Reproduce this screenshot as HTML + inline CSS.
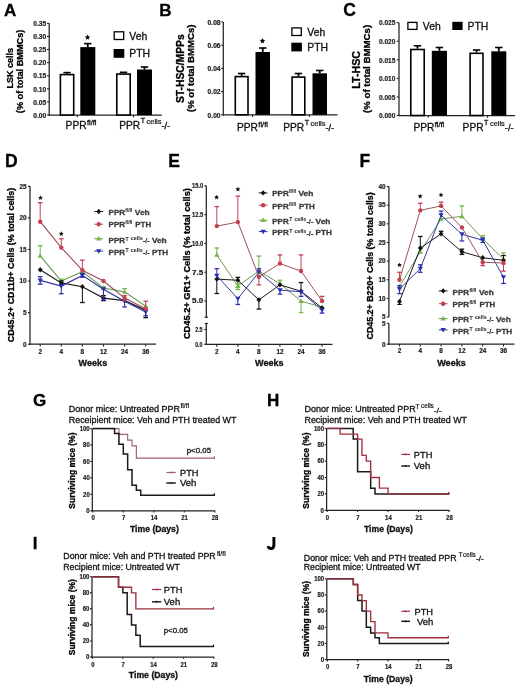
<!DOCTYPE html><html><head><meta charset="utf-8"><style>html,body{margin:0;padding:0;background:#fff;}svg{display:block;filter:blur(0.4px);}text{font-family:"Liberation Sans",sans-serif;stroke:currentColor;stroke-width:0.3px;}</style></head><body>
<svg width="520" height="685" viewBox="0 0 520 685">
<rect x="0" y="0" width="520" height="685" fill="#fff"/>
<text x="3.9" y="15.9" font-size="17" font-weight="bold" text-anchor="start" fill="#000" color="#000">A</text>
<text transform="translate(13.0,68.2) rotate(-90)" x="0" y="0" font-size="9.3" font-weight="bold" text-anchor="middle" fill="#000" color="#000" textLength="40.5" lengthAdjust="spacingAndGlyphs">LSK cells</text>
<text transform="translate(22.6,71.4) rotate(-90)" x="0" y="0" font-size="9.3" font-weight="bold" text-anchor="middle" fill="#000" color="#000" textLength="83.5" lengthAdjust="spacingAndGlyphs">(% of total BMMCs)</text>
<line x1="49.2" y1="23.299999999999997" x2="49.2" y2="115.6" stroke="#222" stroke-width="1.25"/>
<line x1="47.0" y1="115.0" x2="49.2" y2="115.0" stroke="#222" stroke-width="1.1"/>
<text x="46.2" y="117.7" font-size="6.6" font-weight="bold" text-anchor="end" fill="#222" color="#222" textLength="13" lengthAdjust="spacingAndGlyphs" style="stroke-width:0.2px">0.00</text>
<line x1="47.0" y1="101.9" x2="49.2" y2="101.9" stroke="#222" stroke-width="1.1"/>
<text x="46.2" y="104.60000000000001" font-size="6.6" font-weight="bold" text-anchor="end" fill="#222" color="#222" textLength="13" lengthAdjust="spacingAndGlyphs" style="stroke-width:0.2px">0.05</text>
<line x1="47.0" y1="88.8" x2="49.2" y2="88.8" stroke="#222" stroke-width="1.1"/>
<text x="46.2" y="91.5" font-size="6.6" font-weight="bold" text-anchor="end" fill="#222" color="#222" textLength="13" lengthAdjust="spacingAndGlyphs" style="stroke-width:0.2px">0.10</text>
<line x1="47.0" y1="75.7" x2="49.2" y2="75.7" stroke="#222" stroke-width="1.1"/>
<text x="46.2" y="78.4" font-size="6.6" font-weight="bold" text-anchor="end" fill="#222" color="#222" textLength="13" lengthAdjust="spacingAndGlyphs" style="stroke-width:0.2px">0.15</text>
<line x1="47.0" y1="62.6" x2="49.2" y2="62.6" stroke="#222" stroke-width="1.1"/>
<text x="46.2" y="65.3" font-size="6.6" font-weight="bold" text-anchor="end" fill="#222" color="#222" textLength="13" lengthAdjust="spacingAndGlyphs" style="stroke-width:0.2px">0.20</text>
<line x1="47.0" y1="49.5" x2="49.2" y2="49.5" stroke="#222" stroke-width="1.1"/>
<text x="46.2" y="52.2" font-size="6.6" font-weight="bold" text-anchor="end" fill="#222" color="#222" textLength="13" lengthAdjust="spacingAndGlyphs" style="stroke-width:0.2px">0.25</text>
<line x1="47.0" y1="36.400000000000006" x2="49.2" y2="36.400000000000006" stroke="#222" stroke-width="1.1"/>
<text x="46.2" y="39.10000000000001" font-size="6.6" font-weight="bold" text-anchor="end" fill="#222" color="#222" textLength="13" lengthAdjust="spacingAndGlyphs" style="stroke-width:0.2px">0.30</text>
<line x1="47.0" y1="23.299999999999997" x2="49.2" y2="23.299999999999997" stroke="#222" stroke-width="1.1"/>
<text x="46.2" y="25.999999999999996" font-size="6.6" font-weight="bold" text-anchor="end" fill="#222" color="#222" textLength="13" lengthAdjust="spacingAndGlyphs" style="stroke-width:0.2px">0.35</text>
<line x1="48.6" y1="115.0" x2="161.7" y2="115.0" stroke="#222" stroke-width="1.25"/>
<line x1="77.3" y1="115.0" x2="77.3" y2="117.3" stroke="#222" stroke-width="1.1"/>
<line x1="133.5" y1="115.0" x2="133.5" y2="117.3" stroke="#222" stroke-width="1.1"/>
<line x1="67.05" y1="73.8" x2="67.05" y2="72.6" stroke="#000" stroke-width="1.8"/>
<line x1="63.349999999999994" y1="72.6" x2="70.75" y2="72.6" stroke="#000" stroke-width="1.6"/>
<rect x="60.4" y="74.6" width="13.299999999999999" height="40.400000000000006" fill="#fff" stroke="#000" stroke-width="1.6"/>
<line x1="87.8" y1="47.1" x2="87.8" y2="43.6" stroke="#000" stroke-width="1.8"/>
<line x1="84.1" y1="43.6" x2="91.5" y2="43.6" stroke="#000" stroke-width="1.6"/>
<rect x="80.3" y="47.1" width="15.0" height="67.9" fill="#000"/>
<line x1="123.5" y1="73.3" x2="123.5" y2="72.3" stroke="#000" stroke-width="1.8"/>
<line x1="119.8" y1="72.3" x2="127.2" y2="72.3" stroke="#000" stroke-width="1.6"/>
<rect x="116.8" y="74.1" width="13.4" height="40.900000000000006" fill="#fff" stroke="#000" stroke-width="1.6"/>
<line x1="144.5" y1="69.5" x2="144.5" y2="67.0" stroke="#000" stroke-width="1.8"/>
<line x1="140.8" y1="67.0" x2="148.2" y2="67.0" stroke="#000" stroke-width="1.6"/>
<rect x="137.0" y="69.5" width="15.0" height="45.5" fill="#000"/>
<polygon points="87.50,34.40 88.35,36.13 90.26,36.40 88.88,37.75 89.20,39.65 87.50,38.75 85.80,39.65 86.12,37.75 84.74,36.40 86.65,36.13" fill="#111"/>
<rect x="114.19999999999999" y="31.8" width="9.5" height="7.7" fill="#fff" stroke="#000" stroke-width="1.3"/>
<text x="129.3" y="39.6" font-size="10.4" text-anchor="start" fill="#111" color="#111">Veh</text>
<rect x="113.6" y="49.0" width="10.7" height="8.8" fill="#000"/>
<text x="129.3" y="57.4" font-size="10.4" text-anchor="start" fill="#111" color="#111">PTH</text>
<text x="65.6" y="128.9" font-size="10.2" text-anchor="start" fill="#111" color="#111" textLength="21.0" lengthAdjust="spacingAndGlyphs">PPR</text>
<text x="86.9" y="124.60000000000001" font-size="7.2" text-anchor="start" fill="#111" color="#111" textLength="9.6" lengthAdjust="spacingAndGlyphs">fl/fl</text>
<text x="119.19999999999999" y="129.2" font-size="10.2" text-anchor="start" fill="#111" color="#111" textLength="21.0" lengthAdjust="spacingAndGlyphs">PPR</text>
<text x="140.7" y="123.39999999999999" font-size="7.0" text-anchor="start" fill="#111" color="#111">T</text>
<text x="146.6" y="124.39999999999999" font-size="6.6" text-anchor="start" fill="#111" color="#111" textLength="14.8" lengthAdjust="spacingAndGlyphs" style="stroke-width:0.2px">cells</text>
<text x="161.39999999999998" y="129.1" font-size="8.5" text-anchor="start" fill="#111" color="#111" textLength="8.8" lengthAdjust="spacingAndGlyphs">-/-</text>
<text x="159.2" y="15.9" font-size="17" font-weight="bold" text-anchor="start" fill="#000" color="#000">B</text>
<text transform="translate(183.6,68.7) rotate(-90)" x="0" y="0" font-size="10.3" font-weight="bold" text-anchor="middle" fill="#000" color="#000" textLength="68.8" lengthAdjust="spacingAndGlyphs">ST-HSC/MPPs</text>
<text transform="translate(194.4,68.3) rotate(-90)" x="0" y="0" font-size="9.3" font-weight="bold" text-anchor="middle" fill="#000" color="#000" textLength="87.5" lengthAdjust="spacingAndGlyphs">(% of total BMMCs)</text>
<line x1="223.3" y1="22.0" x2="223.3" y2="115.39999999999999" stroke="#222" stroke-width="1.25"/>
<line x1="221.10000000000002" y1="114.8" x2="223.3" y2="114.8" stroke="#222" stroke-width="1.1"/>
<text x="220.6" y="117.5" font-size="6.6" font-weight="bold" text-anchor="end" fill="#222" color="#222" textLength="13" lengthAdjust="spacingAndGlyphs" style="stroke-width:0.2px">0.00</text>
<line x1="221.10000000000002" y1="91.6" x2="223.3" y2="91.6" stroke="#222" stroke-width="1.1"/>
<text x="220.6" y="94.3" font-size="6.6" font-weight="bold" text-anchor="end" fill="#222" color="#222" textLength="13" lengthAdjust="spacingAndGlyphs" style="stroke-width:0.2px">0.02</text>
<line x1="221.10000000000002" y1="68.4" x2="223.3" y2="68.4" stroke="#222" stroke-width="1.1"/>
<text x="220.6" y="71.10000000000001" font-size="6.6" font-weight="bold" text-anchor="end" fill="#222" color="#222" textLength="13" lengthAdjust="spacingAndGlyphs" style="stroke-width:0.2px">0.04</text>
<line x1="221.10000000000002" y1="45.2" x2="223.3" y2="45.2" stroke="#222" stroke-width="1.1"/>
<text x="220.6" y="47.900000000000006" font-size="6.6" font-weight="bold" text-anchor="end" fill="#222" color="#222" textLength="13" lengthAdjust="spacingAndGlyphs" style="stroke-width:0.2px">0.06</text>
<line x1="221.10000000000002" y1="22.0" x2="223.3" y2="22.0" stroke="#222" stroke-width="1.1"/>
<text x="220.6" y="24.7" font-size="6.6" font-weight="bold" text-anchor="end" fill="#222" color="#222" textLength="13" lengthAdjust="spacingAndGlyphs" style="stroke-width:0.2px">0.08</text>
<line x1="222.70000000000002" y1="114.8" x2="337.5" y2="114.8" stroke="#222" stroke-width="1.25"/>
<line x1="252.5" y1="114.8" x2="252.5" y2="117.1" stroke="#222" stroke-width="1.1"/>
<line x1="309.3" y1="114.8" x2="309.3" y2="117.1" stroke="#222" stroke-width="1.1"/>
<line x1="241.65" y1="75.8" x2="241.65" y2="73.5" stroke="#000" stroke-width="1.8"/>
<line x1="237.95000000000002" y1="73.5" x2="245.35" y2="73.5" stroke="#000" stroke-width="1.6"/>
<rect x="235.3" y="76.6" width="12.700000000000012" height="38.2" fill="#fff" stroke="#000" stroke-width="1.6"/>
<line x1="262.75" y1="52.0" x2="262.75" y2="48.0" stroke="#000" stroke-width="1.8"/>
<line x1="259.05" y1="48.0" x2="266.45" y2="48.0" stroke="#000" stroke-width="1.6"/>
<rect x="255.5" y="52.0" width="14.5" height="62.8" fill="#000"/>
<line x1="298.45000000000005" y1="76.3" x2="298.45000000000005" y2="73.5" stroke="#000" stroke-width="1.8"/>
<line x1="294.75000000000006" y1="73.5" x2="302.15000000000003" y2="73.5" stroke="#000" stroke-width="1.6"/>
<rect x="292.1" y="77.1" width="12.700000000000012" height="37.7" fill="#fff" stroke="#000" stroke-width="1.6"/>
<line x1="319.75" y1="73.3" x2="319.75" y2="70.5" stroke="#000" stroke-width="1.8"/>
<line x1="316.05" y1="70.5" x2="323.45" y2="70.5" stroke="#000" stroke-width="1.6"/>
<rect x="312.5" y="73.3" width="14.5" height="41.5" fill="#000"/>
<polygon points="262.50,38.10 263.35,39.83 265.26,40.10 263.88,41.45 264.20,43.35 262.50,42.45 260.80,43.35 261.12,41.45 259.74,40.10 261.65,39.83" fill="#111"/>
<rect x="291.90000000000003" y="27.900000000000002" width="9.4" height="7.6000000000000005" fill="#fff" stroke="#000" stroke-width="1.3"/>
<text x="307.3" y="35.6" font-size="10.4" text-anchor="start" fill="#111" color="#111">Veh</text>
<rect x="291.3" y="42.7" width="10.6" height="8.7" fill="#000"/>
<text x="307.3" y="50.9" font-size="10.4" text-anchor="start" fill="#111" color="#111">PTH</text>
<text x="237.0" y="131.0" font-size="10.2" text-anchor="start" fill="#111" color="#111" textLength="21.0" lengthAdjust="spacingAndGlyphs">PPR</text>
<text x="258.3" y="126.7" font-size="7.2" text-anchor="start" fill="#111" color="#111" textLength="9.6" lengthAdjust="spacingAndGlyphs">fl/fl</text>
<text x="283.20000000000005" y="131.1" font-size="10.2" text-anchor="start" fill="#111" color="#111" textLength="21.0" lengthAdjust="spacingAndGlyphs">PPR</text>
<text x="304.70000000000005" y="125.3" font-size="7.0" text-anchor="start" fill="#111" color="#111">T</text>
<text x="310.6" y="126.3" font-size="6.6" text-anchor="start" fill="#111" color="#111" textLength="14.8" lengthAdjust="spacingAndGlyphs" style="stroke-width:0.2px">cells</text>
<text x="325.40000000000003" y="131.0" font-size="8.5" text-anchor="start" fill="#111" color="#111" textLength="8.8" lengthAdjust="spacingAndGlyphs">-/-</text>
<text x="343.3" y="16.1" font-size="17.5" font-weight="bold" text-anchor="start" fill="#000" color="#000">C</text>
<text transform="translate(360.0,69.9) rotate(-90)" x="0" y="0" font-size="10.3" font-weight="bold" text-anchor="middle" fill="#000" color="#000" textLength="37.6" lengthAdjust="spacingAndGlyphs">LT-HSC</text>
<text transform="translate(370.3,68.9) rotate(-90)" x="0" y="0" font-size="9.3" font-weight="bold" text-anchor="middle" fill="#000" color="#000" textLength="88.2" lengthAdjust="spacingAndGlyphs">(% of total BMMCs)</text>
<line x1="399.0" y1="22.700000000000003" x2="399.0" y2="116.1" stroke="#222" stroke-width="1.25"/>
<line x1="396.8" y1="115.5" x2="399.0" y2="115.5" stroke="#222" stroke-width="1.1"/>
<text x="395.4" y="118.2" font-size="6.6" font-weight="bold" text-anchor="end" fill="#222" color="#222" textLength="16.4" lengthAdjust="spacingAndGlyphs" style="stroke-width:0.2px">0.000</text>
<line x1="396.8" y1="96.94" x2="399.0" y2="96.94" stroke="#222" stroke-width="1.1"/>
<text x="395.4" y="99.64" font-size="6.6" font-weight="bold" text-anchor="end" fill="#222" color="#222" textLength="16.4" lengthAdjust="spacingAndGlyphs" style="stroke-width:0.2px">0.005</text>
<line x1="396.8" y1="78.38" x2="399.0" y2="78.38" stroke="#222" stroke-width="1.1"/>
<text x="395.4" y="81.08" font-size="6.6" font-weight="bold" text-anchor="end" fill="#222" color="#222" textLength="16.4" lengthAdjust="spacingAndGlyphs" style="stroke-width:0.2px">0.010</text>
<line x1="396.8" y1="59.82000000000001" x2="399.0" y2="59.82000000000001" stroke="#222" stroke-width="1.1"/>
<text x="395.4" y="62.52000000000001" font-size="6.6" font-weight="bold" text-anchor="end" fill="#222" color="#222" textLength="16.4" lengthAdjust="spacingAndGlyphs" style="stroke-width:0.2px">0.015</text>
<line x1="396.8" y1="41.260000000000005" x2="399.0" y2="41.260000000000005" stroke="#222" stroke-width="1.1"/>
<text x="395.4" y="43.96000000000001" font-size="6.6" font-weight="bold" text-anchor="end" fill="#222" color="#222" textLength="16.4" lengthAdjust="spacingAndGlyphs" style="stroke-width:0.2px">0.020</text>
<line x1="396.8" y1="22.700000000000003" x2="399.0" y2="22.700000000000003" stroke="#222" stroke-width="1.1"/>
<text x="395.4" y="25.400000000000002" font-size="6.6" font-weight="bold" text-anchor="end" fill="#222" color="#222" textLength="16.4" lengthAdjust="spacingAndGlyphs" style="stroke-width:0.2px">0.025</text>
<line x1="398.4" y1="115.5" x2="515.0" y2="115.5" stroke="#222" stroke-width="1.25"/>
<line x1="428.3" y1="115.5" x2="428.3" y2="117.8" stroke="#222" stroke-width="1.1"/>
<line x1="487.5" y1="115.5" x2="487.5" y2="117.8" stroke="#222" stroke-width="1.1"/>
<line x1="417.5" y1="48.7" x2="417.5" y2="45.8" stroke="#000" stroke-width="1.8"/>
<line x1="413.8" y1="45.8" x2="421.2" y2="45.8" stroke="#000" stroke-width="1.6"/>
<rect x="410.8" y="49.5" width="13.4" height="66.0" fill="#fff" stroke="#000" stroke-width="1.6"/>
<line x1="439.4" y1="50.8" x2="439.4" y2="47.5" stroke="#000" stroke-width="1.8"/>
<line x1="435.7" y1="47.5" x2="443.09999999999997" y2="47.5" stroke="#000" stroke-width="1.6"/>
<rect x="431.8" y="50.8" width="15.199999999999989" height="64.7" fill="#000"/>
<line x1="476.55" y1="52.5" x2="476.55" y2="50.0" stroke="#000" stroke-width="1.8"/>
<line x1="472.85" y1="50.0" x2="480.25" y2="50.0" stroke="#000" stroke-width="1.6"/>
<rect x="470.1" y="53.3" width="12.9" height="62.2" fill="#fff" stroke="#000" stroke-width="1.6"/>
<line x1="498.8" y1="51.3" x2="498.8" y2="47.5" stroke="#000" stroke-width="1.8"/>
<line x1="495.1" y1="47.5" x2="502.5" y2="47.5" stroke="#000" stroke-width="1.6"/>
<rect x="491.3" y="51.3" width="15.0" height="64.2" fill="#000"/>
<rect x="407.90000000000003" y="22.400000000000002" width="9.100000000000001" height="6.999999999999999" fill="#fff" stroke="#000" stroke-width="1.3"/>
<text x="422.8" y="29.6" font-size="10.4" text-anchor="start" fill="#111" color="#111">Veh</text>
<rect x="452.3" y="21.8" width="10.3" height="8.2" fill="#000"/>
<text x="467.5" y="29.6" font-size="10.4" text-anchor="start" fill="#111" color="#111">PTH</text>
<text x="413.40000000000003" y="131.1" font-size="10.2" text-anchor="start" fill="#111" color="#111" textLength="21.0" lengthAdjust="spacingAndGlyphs">PPR</text>
<text x="434.7" y="126.8" font-size="7.2" text-anchor="start" fill="#111" color="#111" textLength="9.6" lengthAdjust="spacingAndGlyphs">fl/fl</text>
<text x="462.6" y="131.1" font-size="10.2" text-anchor="start" fill="#111" color="#111" textLength="21.0" lengthAdjust="spacingAndGlyphs">PPR</text>
<text x="484.1" y="125.3" font-size="7.0" text-anchor="start" fill="#111" color="#111">T</text>
<text x="490.0" y="126.3" font-size="6.6" text-anchor="start" fill="#111" color="#111" textLength="14.8" lengthAdjust="spacingAndGlyphs" style="stroke-width:0.2px">cells</text>
<text x="504.8" y="131.0" font-size="8.5" text-anchor="start" fill="#111" color="#111" textLength="8.8" lengthAdjust="spacingAndGlyphs">-/-</text>
<text x="5.0" y="166.6" font-size="17.5" font-weight="bold" text-anchor="start" fill="#000" color="#000">D</text>
<text transform="translate(14.4,265.0) rotate(-90)" x="0" y="0" font-size="9.0" font-weight="bold" text-anchor="middle" fill="#000" color="#000" textLength="154.5" lengthAdjust="spacingAndGlyphs">CD45.2+ CD11b+ Cells (% total cells)</text>
<line x1="30.0" y1="186.325" x2="30.0" y2="344.8" stroke="#222" stroke-width="1.25"/>
<line x1="28.0" y1="344.2" x2="30.0" y2="344.2" stroke="#222" stroke-width="1.1"/>
<text x="26.6" y="346.5" font-size="6.4" font-weight="bold" text-anchor="end" fill="#222" color="#222" style="stroke-width:0.2px">0</text>
<line x1="28.0" y1="312.625" x2="30.0" y2="312.625" stroke="#222" stroke-width="1.1"/>
<text x="26.6" y="314.925" font-size="6.4" font-weight="bold" text-anchor="end" fill="#222" color="#222" style="stroke-width:0.2px">5</text>
<line x1="28.0" y1="281.04999999999995" x2="30.0" y2="281.04999999999995" stroke="#222" stroke-width="1.1"/>
<text x="26.6" y="283.34999999999997" font-size="6.4" font-weight="bold" text-anchor="end" fill="#222" color="#222" style="stroke-width:0.2px">10</text>
<line x1="28.0" y1="249.47499999999997" x2="30.0" y2="249.47499999999997" stroke="#222" stroke-width="1.1"/>
<text x="26.6" y="251.77499999999998" font-size="6.4" font-weight="bold" text-anchor="end" fill="#222" color="#222" style="stroke-width:0.2px">15</text>
<line x1="28.0" y1="217.89999999999998" x2="30.0" y2="217.89999999999998" stroke="#222" stroke-width="1.1"/>
<text x="26.6" y="220.2" font-size="6.4" font-weight="bold" text-anchor="end" fill="#222" color="#222" style="stroke-width:0.2px">20</text>
<line x1="28.0" y1="186.325" x2="30.0" y2="186.325" stroke="#222" stroke-width="1.1"/>
<text x="26.6" y="188.625" font-size="6.4" font-weight="bold" text-anchor="end" fill="#222" color="#222" style="stroke-width:0.2px">25</text>
<line x1="29.4" y1="344.2" x2="156.0" y2="344.2" stroke="#222" stroke-width="1.25"/>
<line x1="40.2" y1="344.2" x2="40.2" y2="346.59999999999997" stroke="#222" stroke-width="1.1"/>
<text x="40.2" y="353.5" font-size="6.4" font-weight="bold" text-anchor="middle" fill="#222" color="#222" style="stroke-width:0.2px">2</text>
<line x1="61.300000000000004" y1="344.2" x2="61.300000000000004" y2="346.59999999999997" stroke="#222" stroke-width="1.1"/>
<text x="61.300000000000004" y="353.5" font-size="6.4" font-weight="bold" text-anchor="middle" fill="#222" color="#222" style="stroke-width:0.2px">4</text>
<line x1="82.4" y1="344.2" x2="82.4" y2="346.59999999999997" stroke="#222" stroke-width="1.1"/>
<text x="82.4" y="353.5" font-size="6.4" font-weight="bold" text-anchor="middle" fill="#222" color="#222" style="stroke-width:0.2px">8</text>
<line x1="103.5" y1="344.2" x2="103.5" y2="346.59999999999997" stroke="#222" stroke-width="1.1"/>
<text x="103.5" y="353.5" font-size="6.4" font-weight="bold" text-anchor="middle" fill="#222" color="#222" style="stroke-width:0.2px">12</text>
<line x1="124.60000000000001" y1="344.2" x2="124.60000000000001" y2="346.59999999999997" stroke="#222" stroke-width="1.1"/>
<text x="124.60000000000001" y="353.5" font-size="6.4" font-weight="bold" text-anchor="middle" fill="#222" color="#222" style="stroke-width:0.2px">24</text>
<line x1="145.7" y1="344.2" x2="145.7" y2="346.59999999999997" stroke="#222" stroke-width="1.1"/>
<text x="145.7" y="353.5" font-size="6.4" font-weight="bold" text-anchor="middle" fill="#222" color="#222" style="stroke-width:0.2px">36</text>
<text x="92.9" y="365.6" font-size="9.1" font-weight="bold" text-anchor="middle" fill="#111" color="#111" textLength="28.6" lengthAdjust="spacingAndGlyphs">Weeks</text>
<path d="M40.20,255.79 L61.30,281.05 L82.40,271.58 L103.50,288.00 L124.60,291.79 L145.70,306.31" stroke="#6f9c56" stroke-width="1.2" fill="none"/>
<line x1="40.2" y1="255.78999999999996" x2="40.2" y2="245.68599999999998" stroke="#72b545" stroke-width="1.0"/>
<line x1="37.900000000000006" y1="245.68599999999998" x2="42.5" y2="245.68599999999998" stroke="#72b545" stroke-width="1.3"/>
<line x1="61.300000000000004" y1="281.04999999999995" x2="61.300000000000004" y2="279.15549999999996" stroke="#72b545" stroke-width="1.0"/>
<line x1="59.00000000000001" y1="279.15549999999996" x2="63.6" y2="279.15549999999996" stroke="#72b545" stroke-width="1.3"/>
<line x1="103.5" y1="287.99649999999997" x2="103.5" y2="286.7335" stroke="#72b545" stroke-width="1.0"/>
<line x1="101.2" y1="286.7335" x2="105.8" y2="286.7335" stroke="#72b545" stroke-width="1.3"/>
<line x1="124.60000000000001" y1="291.78549999999996" x2="124.60000000000001" y2="288.628" stroke="#72b545" stroke-width="1.0"/>
<line x1="122.30000000000001" y1="288.628" x2="126.9" y2="288.628" stroke="#72b545" stroke-width="1.3"/>
<path d="M40.20,253.19L42.80,257.69L37.60,257.69Z" fill="#72b545"/>
<path d="M61.30,278.45L63.90,282.95L58.70,282.95Z" fill="#72b545"/>
<path d="M82.40,268.98L85.00,273.48L79.80,273.48Z" fill="#72b545"/>
<path d="M103.50,285.40L106.10,289.90L100.90,289.90Z" fill="#72b545"/>
<path d="M124.60,289.19L127.20,293.69L122.00,293.69Z" fill="#72b545"/>
<path d="M145.70,303.71L148.30,308.21L143.10,308.21Z" fill="#72b545"/>
<path d="M40.20,269.68 L61.30,282.94 L82.40,286.73 L103.50,298.10 L124.60,300.63 L145.70,310.10" stroke="#1a1a1a" stroke-width="1.2" fill="none"/>
<line x1="61.300000000000004" y1="282.9445" x2="61.300000000000004" y2="284.839" stroke="#111111" stroke-width="1.0"/>
<line x1="59.00000000000001" y1="284.839" x2="63.6" y2="284.839" stroke="#111111" stroke-width="1.3"/>
<line x1="61.300000000000004" y1="282.9445" x2="61.300000000000004" y2="281.04999999999995" stroke="#111111" stroke-width="1.0"/>
<line x1="59.00000000000001" y1="281.04999999999995" x2="63.6" y2="281.04999999999995" stroke="#111111" stroke-width="1.3"/>
<line x1="82.4" y1="286.7335" x2="82.4" y2="302.52099999999996" stroke="#111111" stroke-width="1.0"/>
<line x1="80.10000000000001" y1="302.52099999999996" x2="84.7" y2="302.52099999999996" stroke="#111111" stroke-width="1.3"/>
<line x1="103.5" y1="298.1005" x2="103.5" y2="300.62649999999996" stroke="#111111" stroke-width="1.0"/>
<line x1="101.2" y1="300.62649999999996" x2="105.8" y2="300.62649999999996" stroke="#111111" stroke-width="1.3"/>
<line x1="103.5" y1="298.1005" x2="103.5" y2="295.5745" stroke="#111111" stroke-width="1.0"/>
<line x1="101.2" y1="295.5745" x2="105.8" y2="295.5745" stroke="#111111" stroke-width="1.3"/>
<line x1="145.7" y1="310.099" x2="145.7" y2="317.67699999999996" stroke="#111111" stroke-width="1.0"/>
<line x1="143.39999999999998" y1="317.67699999999996" x2="148.0" y2="317.67699999999996" stroke="#111111" stroke-width="1.3"/>
<path d="M40.20,266.98L42.60,269.68L40.20,272.38L37.80,269.68Z" fill="#111111"/>
<path d="M61.30,280.24L63.70,282.94L61.30,285.64L58.90,282.94Z" fill="#111111"/>
<path d="M82.40,284.03L84.80,286.73L82.40,289.43L80.00,286.73Z" fill="#111111"/>
<path d="M103.50,295.40L105.90,298.10L103.50,300.80L101.10,298.10Z" fill="#111111"/>
<path d="M124.60,297.93L127.00,300.63L124.60,303.33L122.20,300.63Z" fill="#111111"/>
<path d="M145.70,307.40L148.10,310.10L145.70,312.80L143.30,310.10Z" fill="#111111"/>
<path d="M40.20,280.42 L61.30,286.10 L82.40,275.37 L103.50,289.26 L124.60,301.26 L145.70,311.99" stroke="#3236a0" stroke-width="1.2" fill="none"/>
<line x1="40.2" y1="280.4185" x2="40.2" y2="284.2075" stroke="#2a2fb0" stroke-width="1.0"/>
<line x1="37.900000000000006" y1="284.2075" x2="42.5" y2="284.2075" stroke="#2a2fb0" stroke-width="1.3"/>
<line x1="40.2" y1="280.4185" x2="40.2" y2="276.6295" stroke="#2a2fb0" stroke-width="1.0"/>
<line x1="37.900000000000006" y1="276.6295" x2="42.5" y2="276.6295" stroke="#2a2fb0" stroke-width="1.3"/>
<line x1="61.300000000000004" y1="286.102" x2="61.300000000000004" y2="293.68" stroke="#2a2fb0" stroke-width="1.0"/>
<line x1="59.00000000000001" y1="293.68" x2="63.6" y2="293.68" stroke="#2a2fb0" stroke-width="1.3"/>
<line x1="82.4" y1="275.3665" x2="82.4" y2="277.26099999999997" stroke="#2a2fb0" stroke-width="1.0"/>
<line x1="80.10000000000001" y1="277.26099999999997" x2="84.7" y2="277.26099999999997" stroke="#2a2fb0" stroke-width="1.3"/>
<line x1="82.4" y1="275.3665" x2="82.4" y2="273.472" stroke="#2a2fb0" stroke-width="1.0"/>
<line x1="80.10000000000001" y1="273.472" x2="84.7" y2="273.472" stroke="#2a2fb0" stroke-width="1.3"/>
<line x1="103.5" y1="289.2595" x2="103.5" y2="299.995" stroke="#2a2fb0" stroke-width="1.0"/>
<line x1="101.2" y1="299.995" x2="105.8" y2="299.995" stroke="#2a2fb0" stroke-width="1.3"/>
<line x1="124.60000000000001" y1="301.258" x2="124.60000000000001" y2="306.94149999999996" stroke="#2a2fb0" stroke-width="1.0"/>
<line x1="122.30000000000001" y1="306.94149999999996" x2="126.9" y2="306.94149999999996" stroke="#2a2fb0" stroke-width="1.3"/>
<line x1="145.7" y1="311.9935" x2="145.7" y2="315.78249999999997" stroke="#2a2fb0" stroke-width="1.0"/>
<line x1="143.39999999999998" y1="315.78249999999997" x2="148.0" y2="315.78249999999997" stroke="#2a2fb0" stroke-width="1.3"/>
<path d="M40.20,283.02L42.80,278.52L37.60,278.52Z" fill="#2a2fb0"/>
<path d="M61.30,288.70L63.90,284.20L58.70,284.20Z" fill="#2a2fb0"/>
<path d="M82.40,277.97L85.00,273.47L79.80,273.47Z" fill="#2a2fb0"/>
<path d="M103.50,291.86L106.10,287.36L100.90,287.36Z" fill="#2a2fb0"/>
<path d="M124.60,303.86L127.20,299.36L122.00,299.36Z" fill="#2a2fb0"/>
<path d="M145.70,314.59L148.30,310.09L143.10,310.09Z" fill="#2a2fb0"/>
<path d="M40.20,221.69 L61.30,247.58 L82.40,270.31 L103.50,281.05 L124.60,298.10 L145.70,308.84" stroke="#a0525c" stroke-width="1.2" fill="none"/>
<line x1="40.2" y1="221.689" x2="40.2" y2="202.744" stroke="#c4404f" stroke-width="1.0"/>
<line x1="37.900000000000006" y1="202.744" x2="42.5" y2="202.744" stroke="#c4404f" stroke-width="1.3"/>
<line x1="61.300000000000004" y1="247.58049999999997" x2="61.300000000000004" y2="238.7395" stroke="#c4404f" stroke-width="1.0"/>
<line x1="59.00000000000001" y1="238.7395" x2="63.6" y2="238.7395" stroke="#c4404f" stroke-width="1.3"/>
<line x1="82.4" y1="270.3145" x2="82.4" y2="260.21049999999997" stroke="#c4404f" stroke-width="1.0"/>
<line x1="80.10000000000001" y1="260.21049999999997" x2="84.7" y2="260.21049999999997" stroke="#c4404f" stroke-width="1.3"/>
<line x1="124.60000000000001" y1="298.1005" x2="124.60000000000001" y2="300.62649999999996" stroke="#c4404f" stroke-width="1.0"/>
<line x1="122.30000000000001" y1="300.62649999999996" x2="126.9" y2="300.62649999999996" stroke="#c4404f" stroke-width="1.3"/>
<line x1="124.60000000000001" y1="298.1005" x2="124.60000000000001" y2="295.5745" stroke="#c4404f" stroke-width="1.0"/>
<line x1="122.30000000000001" y1="295.5745" x2="126.9" y2="295.5745" stroke="#c4404f" stroke-width="1.3"/>
<line x1="145.7" y1="308.836" x2="145.7" y2="301.258" stroke="#c4404f" stroke-width="1.0"/>
<line x1="143.39999999999998" y1="301.258" x2="148.0" y2="301.258" stroke="#c4404f" stroke-width="1.3"/>
<circle cx="40.20" cy="221.69" r="2.2" fill="#c4404f"/>
<circle cx="61.30" cy="247.58" r="2.2" fill="#c4404f"/>
<circle cx="82.40" cy="270.31" r="2.2" fill="#c4404f"/>
<circle cx="103.50" cy="281.05" r="2.2" fill="#c4404f"/>
<circle cx="124.60" cy="298.10" r="2.2" fill="#c4404f"/>
<circle cx="145.70" cy="308.84" r="2.2" fill="#c4404f"/>
<polygon points="40.50,195.30 41.19,196.95 42.97,197.10 41.61,198.26 42.03,200.00 40.50,199.07 38.97,200.00 39.39,198.26 38.03,197.10 39.81,196.95" fill="#111"/>
<polygon points="61.30,231.20 61.99,232.85 63.77,233.00 62.41,234.16 62.83,235.90 61.30,234.97 59.77,235.90 60.19,234.16 58.83,233.00 60.61,232.85" fill="#111"/>
<line x1="94.3" y1="211.5" x2="103.2" y2="211.5" stroke="#1a1a1a" stroke-width="1.0"/>
<path d="M98.75,208.80L101.15,211.50L98.75,214.20L96.35,211.50Z" fill="#111111"/>
<text x="108.5" y="215.1" font-size="7.8" font-weight="bold" text-anchor="start" fill="#3a3a3a" color="#3a3a3a" textLength="16.6" lengthAdjust="spacingAndGlyphs">PPR</text>
<text x="125.3" y="212.1" font-size="5.0" font-weight="bold" text-anchor="start" fill="#3a3a3a" color="#3a3a3a" textLength="7.0" lengthAdjust="spacingAndGlyphs" style="stroke-width:0.12px">fl/fl</text>
<text x="134.8" y="215.1" font-size="7.8" font-weight="bold" text-anchor="start" fill="#3a3a3a" color="#3a3a3a" textLength="14.9" lengthAdjust="spacingAndGlyphs">Veh</text>
<line x1="94.3" y1="224.2" x2="103.2" y2="224.2" stroke="#a0525c" stroke-width="1.0"/>
<circle cx="98.75" cy="224.20" r="2.2" fill="#c4404f"/>
<text x="108.5" y="227.3" font-size="7.8" font-weight="bold" text-anchor="start" fill="#3a3a3a" color="#3a3a3a" textLength="16.6" lengthAdjust="spacingAndGlyphs">PPR</text>
<text x="125.3" y="224.3" font-size="5.0" font-weight="bold" text-anchor="start" fill="#3a3a3a" color="#3a3a3a" textLength="7.0" lengthAdjust="spacingAndGlyphs" style="stroke-width:0.12px">fl/fl</text>
<text x="135.3" y="227.3" font-size="7.8" font-weight="bold" text-anchor="start" fill="#3a3a3a" color="#3a3a3a" textLength="15.8" lengthAdjust="spacingAndGlyphs">PTH</text>
<line x1="94.3" y1="238.7" x2="103.2" y2="238.7" stroke="#6f9c56" stroke-width="1.0"/>
<path d="M98.75,236.10L101.35,240.60L96.15,240.60Z" fill="#72b545"/>
<text x="108.5" y="242.9" font-size="7.8" font-weight="bold" text-anchor="start" fill="#3a3a3a" color="#3a3a3a" textLength="16.6" lengthAdjust="spacingAndGlyphs">PPR</text>
<text x="125.5" y="240.5" font-size="5.0" font-weight="bold" text-anchor="start" fill="#3a3a3a" color="#3a3a3a" style="stroke-width:0.12px">T</text>
<text x="130.8" y="240.3" font-size="5.2" font-weight="bold" text-anchor="start" fill="#3a3a3a" color="#3a3a3a" textLength="11.8" lengthAdjust="spacingAndGlyphs" style="stroke-width:0.12px">cells</text>
<text x="142.7" y="243.3" font-size="6.6" font-weight="bold" text-anchor="start" fill="#3a3a3a" color="#3a3a3a" textLength="7.0" lengthAdjust="spacingAndGlyphs" style="stroke-width:0.2px">-/-</text>
<text x="151.9" y="242.9" font-size="7.8" font-weight="bold" text-anchor="start" fill="#3a3a3a" color="#3a3a3a" textLength="14.8" lengthAdjust="spacingAndGlyphs">Veh</text>
<line x1="94.3" y1="251.1" x2="103.2" y2="251.1" stroke="#3236a0" stroke-width="1.0"/>
<path d="M98.75,253.70L101.35,249.20L96.15,249.20Z" fill="#2a2fb0"/>
<text x="108.5" y="254.7" font-size="7.8" font-weight="bold" text-anchor="start" fill="#3a3a3a" color="#3a3a3a" textLength="16.6" lengthAdjust="spacingAndGlyphs">PPR</text>
<text x="125.5" y="252.29999999999998" font-size="5.0" font-weight="bold" text-anchor="start" fill="#3a3a3a" color="#3a3a3a" style="stroke-width:0.12px">T</text>
<text x="130.8" y="252.1" font-size="5.2" font-weight="bold" text-anchor="start" fill="#3a3a3a" color="#3a3a3a" textLength="11.8" lengthAdjust="spacingAndGlyphs" style="stroke-width:0.12px">cells</text>
<text x="142.7" y="255.1" font-size="6.6" font-weight="bold" text-anchor="start" fill="#3a3a3a" color="#3a3a3a" textLength="7.0" lengthAdjust="spacingAndGlyphs" style="stroke-width:0.2px">-/-</text>
<text x="151.9" y="254.7" font-size="7.8" font-weight="bold" text-anchor="start" fill="#3a3a3a" color="#3a3a3a" textLength="16.2" lengthAdjust="spacingAndGlyphs">PTH</text>
<text x="168.3" y="166.6" font-size="17.5" font-weight="bold" text-anchor="start" fill="#000" color="#000">E</text>
<text transform="translate(190.0,263.6) rotate(-90)" x="0" y="0" font-size="8.7" font-weight="bold" text-anchor="middle" fill="#000" color="#000" textLength="151.0" lengthAdjust="spacingAndGlyphs">CD45.2+ GR1+ Cells (% total cells)</text>
<line x1="206.3" y1="185.8" x2="206.3" y2="317.3" stroke="#222" stroke-width="1.25"/>
<line x1="206.3" y1="323.5" x2="206.3" y2="344.90000000000003" stroke="#222" stroke-width="1.25"/>
<line x1="204.70000000000002" y1="317.3" x2="207.9" y2="317.3" stroke="#222" stroke-width="1.2"/>
<line x1="204.70000000000002" y1="323.5" x2="207.9" y2="323.5" stroke="#222" stroke-width="1.2"/>
<line x1="204.3" y1="301.0" x2="206.3" y2="301.0" stroke="#222" stroke-width="1.1"/>
<text x="203.2" y="303.3" font-size="6.4" font-weight="bold" text-anchor="end" fill="#222" color="#222" textLength="11.2" lengthAdjust="spacingAndGlyphs" style="stroke-width:0.2px">5.0</text>
<line x1="204.3" y1="272.2" x2="206.3" y2="272.2" stroke="#222" stroke-width="1.1"/>
<text x="203.2" y="274.5" font-size="6.4" font-weight="bold" text-anchor="end" fill="#222" color="#222" textLength="11.2" lengthAdjust="spacingAndGlyphs" style="stroke-width:0.2px">7.5</text>
<line x1="204.3" y1="243.4" x2="206.3" y2="243.4" stroke="#222" stroke-width="1.1"/>
<text x="203.2" y="245.70000000000002" font-size="6.4" font-weight="bold" text-anchor="end" fill="#222" color="#222" textLength="11.2" lengthAdjust="spacingAndGlyphs" style="stroke-width:0.2px">10.0</text>
<line x1="204.3" y1="214.60000000000002" x2="206.3" y2="214.60000000000002" stroke="#222" stroke-width="1.1"/>
<text x="203.2" y="216.90000000000003" font-size="6.4" font-weight="bold" text-anchor="end" fill="#222" color="#222" textLength="11.2" lengthAdjust="spacingAndGlyphs" style="stroke-width:0.2px">12.5</text>
<line x1="204.3" y1="185.8" x2="206.3" y2="185.8" stroke="#222" stroke-width="1.1"/>
<text x="203.2" y="188.10000000000002" font-size="6.4" font-weight="bold" text-anchor="end" fill="#222" color="#222" textLength="11.2" lengthAdjust="spacingAndGlyphs" style="stroke-width:0.2px">15.0</text>
<line x1="204.3" y1="344.3" x2="206.3" y2="344.3" stroke="#222" stroke-width="1.1"/>
<text x="202.5" y="346.6" font-size="6.4" font-weight="bold" text-anchor="end" fill="#222" color="#222" textLength="7.3" lengthAdjust="spacingAndGlyphs" style="stroke-width:0.2px">0.0</text>
<line x1="204.3" y1="329.5" x2="206.3" y2="329.5" stroke="#222" stroke-width="1.1"/>
<text x="202.5" y="331.8" font-size="6.4" font-weight="bold" text-anchor="end" fill="#222" color="#222" textLength="7.3" lengthAdjust="spacingAndGlyphs" style="stroke-width:0.2px">2.5</text>
<line x1="205.70000000000002" y1="344.3" x2="332.5" y2="344.3" stroke="#222" stroke-width="1.25"/>
<line x1="216.8" y1="344.3" x2="216.8" y2="346.7" stroke="#222" stroke-width="1.1"/>
<text x="216.8" y="353.5" font-size="6.4" font-weight="bold" text-anchor="middle" fill="#222" color="#222" style="stroke-width:0.2px">2</text>
<line x1="237.85000000000002" y1="344.3" x2="237.85000000000002" y2="346.7" stroke="#222" stroke-width="1.1"/>
<text x="237.85000000000002" y="353.5" font-size="6.4" font-weight="bold" text-anchor="middle" fill="#222" color="#222" style="stroke-width:0.2px">4</text>
<line x1="258.90000000000003" y1="344.3" x2="258.90000000000003" y2="346.7" stroke="#222" stroke-width="1.1"/>
<text x="258.90000000000003" y="353.5" font-size="6.4" font-weight="bold" text-anchor="middle" fill="#222" color="#222" style="stroke-width:0.2px">8</text>
<line x1="279.95000000000005" y1="344.3" x2="279.95000000000005" y2="346.7" stroke="#222" stroke-width="1.1"/>
<text x="279.95000000000005" y="353.5" font-size="6.4" font-weight="bold" text-anchor="middle" fill="#222" color="#222" style="stroke-width:0.2px">12</text>
<line x1="301.0" y1="344.3" x2="301.0" y2="346.7" stroke="#222" stroke-width="1.1"/>
<text x="301.0" y="353.5" font-size="6.4" font-weight="bold" text-anchor="middle" fill="#222" color="#222" style="stroke-width:0.2px">24</text>
<line x1="322.05" y1="344.3" x2="322.05" y2="346.7" stroke="#222" stroke-width="1.1"/>
<text x="322.05" y="353.5" font-size="6.4" font-weight="bold" text-anchor="middle" fill="#222" color="#222" style="stroke-width:0.2px">36</text>
<text x="269.3" y="365.5" font-size="9.1" font-weight="bold" text-anchor="middle" fill="#111" color="#111" textLength="28.6" lengthAdjust="spacingAndGlyphs">Weeks</text>
<path d="M216.80,254.92 L237.85,286.02 L258.90,271.05 L279.95,283.72 L301.00,301.00 L322.05,307.34" stroke="#6f9c56" stroke-width="1.0" fill="none"/>
<line x1="216.8" y1="254.92000000000002" x2="216.8" y2="248.008" stroke="#72b545" stroke-width="1.0"/>
<line x1="214.5" y1="248.008" x2="219.10000000000002" y2="248.008" stroke="#72b545" stroke-width="1.3"/>
<line x1="237.85000000000002" y1="286.024" x2="237.85000000000002" y2="289.48" stroke="#72b545" stroke-width="1.0"/>
<line x1="235.55" y1="289.48" x2="240.15000000000003" y2="289.48" stroke="#72b545" stroke-width="1.3"/>
<line x1="237.85000000000002" y1="286.024" x2="237.85000000000002" y2="283.72" stroke="#72b545" stroke-width="1.0"/>
<line x1="235.55" y1="283.72" x2="240.15000000000003" y2="283.72" stroke="#72b545" stroke-width="1.3"/>
<line x1="258.90000000000003" y1="271.048" x2="258.90000000000003" y2="256.072" stroke="#72b545" stroke-width="1.0"/>
<line x1="256.6" y1="256.072" x2="261.20000000000005" y2="256.072" stroke="#72b545" stroke-width="1.3"/>
<line x1="279.95000000000005" y1="283.72" x2="279.95000000000005" y2="280.264" stroke="#72b545" stroke-width="1.0"/>
<line x1="277.65000000000003" y1="280.264" x2="282.25000000000006" y2="280.264" stroke="#72b545" stroke-width="1.3"/>
<line x1="301.0" y1="301.0" x2="301.0" y2="312.52" stroke="#72b545" stroke-width="1.0"/>
<line x1="298.7" y1="312.52" x2="303.3" y2="312.52" stroke="#72b545" stroke-width="1.3"/>
<path d="M216.80,252.32L219.40,256.82L214.20,256.82Z" fill="#72b545"/>
<path d="M237.85,283.42L240.45,287.92L235.25,287.92Z" fill="#72b545"/>
<path d="M258.90,268.45L261.50,272.95L256.30,272.95Z" fill="#72b545"/>
<path d="M279.95,281.12L282.55,285.62L277.35,285.62Z" fill="#72b545"/>
<path d="M301.00,298.40L303.60,302.90L298.40,302.90Z" fill="#72b545"/>
<path d="M322.05,304.74L324.65,309.24L319.45,309.24Z" fill="#72b545"/>
<path d="M216.80,279.11 L237.85,280.26 L258.90,299.85 L279.95,284.87 L301.00,291.21 L322.05,307.91" stroke="#1a1a1a" stroke-width="1.0" fill="none"/>
<line x1="216.8" y1="279.112" x2="216.8" y2="293.512" stroke="#111111" stroke-width="1.0"/>
<line x1="214.5" y1="293.512" x2="219.10000000000002" y2="293.512" stroke="#111111" stroke-width="1.3"/>
<line x1="237.85000000000002" y1="280.264" x2="237.85000000000002" y2="277.384" stroke="#111111" stroke-width="1.0"/>
<line x1="235.55" y1="277.384" x2="240.15000000000003" y2="277.384" stroke="#111111" stroke-width="1.3"/>
<line x1="258.90000000000003" y1="299.848" x2="258.90000000000003" y2="309.06399999999996" stroke="#111111" stroke-width="1.0"/>
<line x1="256.6" y1="309.06399999999996" x2="261.20000000000005" y2="309.06399999999996" stroke="#111111" stroke-width="1.3"/>
<line x1="301.0" y1="291.208" x2="301.0" y2="282.568" stroke="#111111" stroke-width="1.0"/>
<line x1="298.7" y1="282.568" x2="303.3" y2="282.568" stroke="#111111" stroke-width="1.3"/>
<path d="M216.80,276.41L219.20,279.11L216.80,281.81L214.40,279.11Z" fill="#111111"/>
<path d="M237.85,277.56L240.25,280.26L237.85,282.96L235.45,280.26Z" fill="#111111"/>
<path d="M258.90,297.15L261.30,299.85L258.90,302.55L256.50,299.85Z" fill="#111111"/>
<path d="M279.95,282.17L282.35,284.87L279.95,287.57L277.55,284.87Z" fill="#111111"/>
<path d="M301.00,288.51L303.40,291.21L301.00,293.91L298.60,291.21Z" fill="#111111"/>
<path d="M322.05,305.21L324.45,307.91L322.05,310.61L319.65,307.91Z" fill="#111111"/>
<path d="M216.80,275.66 L237.85,298.70 L258.90,272.20 L279.95,290.06 L301.00,291.78 L322.05,310.22" stroke="#3236a0" stroke-width="1.0" fill="none"/>
<line x1="216.8" y1="275.656" x2="216.8" y2="268.744" stroke="#2a2fb0" stroke-width="1.0"/>
<line x1="214.5" y1="268.744" x2="219.10000000000002" y2="268.744" stroke="#2a2fb0" stroke-width="1.3"/>
<line x1="237.85000000000002" y1="298.696" x2="237.85000000000002" y2="304.456" stroke="#2a2fb0" stroke-width="1.0"/>
<line x1="235.55" y1="304.456" x2="240.15000000000003" y2="304.456" stroke="#2a2fb0" stroke-width="1.3"/>
<line x1="258.90000000000003" y1="272.2" x2="258.90000000000003" y2="268.744" stroke="#2a2fb0" stroke-width="1.0"/>
<line x1="256.6" y1="268.744" x2="261.20000000000005" y2="268.744" stroke="#2a2fb0" stroke-width="1.3"/>
<line x1="279.95000000000005" y1="290.05600000000004" x2="279.95000000000005" y2="294.088" stroke="#2a2fb0" stroke-width="1.0"/>
<line x1="277.65000000000003" y1="294.088" x2="282.25000000000006" y2="294.088" stroke="#2a2fb0" stroke-width="1.3"/>
<line x1="301.0" y1="291.784" x2="301.0" y2="296.392" stroke="#2a2fb0" stroke-width="1.0"/>
<line x1="298.7" y1="296.392" x2="303.3" y2="296.392" stroke="#2a2fb0" stroke-width="1.3"/>
<line x1="322.05" y1="310.216" x2="322.05" y2="313.096" stroke="#2a2fb0" stroke-width="1.0"/>
<line x1="319.75" y1="313.096" x2="324.35" y2="313.096" stroke="#2a2fb0" stroke-width="1.3"/>
<path d="M216.80,278.26L219.40,273.76L214.20,273.76Z" fill="#2a2fb0"/>
<path d="M237.85,301.30L240.45,296.80L235.25,296.80Z" fill="#2a2fb0"/>
<path d="M258.90,274.80L261.50,270.30L256.30,270.30Z" fill="#2a2fb0"/>
<path d="M279.95,292.66L282.55,288.16L277.35,288.16Z" fill="#2a2fb0"/>
<path d="M301.00,294.38L303.60,289.88L298.40,289.88Z" fill="#2a2fb0"/>
<path d="M322.05,312.82L324.65,308.32L319.45,308.32Z" fill="#2a2fb0"/>
<path d="M216.80,226.12 L237.85,222.09 L258.90,276.81 L279.95,263.56 L301.00,271.05 L322.05,301.00" stroke="#a0525c" stroke-width="1.0" fill="none"/>
<line x1="216.8" y1="226.12" x2="216.8" y2="206.53600000000003" stroke="#c4404f" stroke-width="1.0"/>
<line x1="214.5" y1="206.53600000000003" x2="219.10000000000002" y2="206.53600000000003" stroke="#c4404f" stroke-width="1.3"/>
<line x1="237.85000000000002" y1="222.08800000000002" x2="237.85000000000002" y2="196.168" stroke="#c4404f" stroke-width="1.0"/>
<line x1="235.55" y1="196.168" x2="240.15000000000003" y2="196.168" stroke="#c4404f" stroke-width="1.3"/>
<line x1="258.90000000000003" y1="276.808" x2="258.90000000000003" y2="284.872" stroke="#c4404f" stroke-width="1.0"/>
<line x1="256.6" y1="284.872" x2="261.20000000000005" y2="284.872" stroke="#c4404f" stroke-width="1.3"/>
<line x1="279.95000000000005" y1="263.56" x2="279.95000000000005" y2="254.92000000000002" stroke="#c4404f" stroke-width="1.0"/>
<line x1="277.65000000000003" y1="254.92000000000002" x2="282.25000000000006" y2="254.92000000000002" stroke="#c4404f" stroke-width="1.3"/>
<line x1="301.0" y1="271.048" x2="301.0" y2="254.92000000000002" stroke="#c4404f" stroke-width="1.0"/>
<line x1="298.7" y1="254.92000000000002" x2="303.3" y2="254.92000000000002" stroke="#c4404f" stroke-width="1.3"/>
<line x1="322.05" y1="301.0" x2="322.05" y2="296.392" stroke="#c4404f" stroke-width="1.0"/>
<line x1="319.75" y1="296.392" x2="324.35" y2="296.392" stroke="#c4404f" stroke-width="1.3"/>
<circle cx="216.80" cy="226.12" r="2.2" fill="#c4404f"/>
<circle cx="237.85" cy="222.09" r="2.2" fill="#c4404f"/>
<circle cx="258.90" cy="276.81" r="2.2" fill="#c4404f"/>
<circle cx="279.95" cy="263.56" r="2.2" fill="#c4404f"/>
<circle cx="301.00" cy="271.05" r="2.2" fill="#c4404f"/>
<circle cx="322.05" cy="301.00" r="2.2" fill="#c4404f"/>
<polygon points="216.60,194.70 217.29,196.35 219.07,196.50 217.71,197.66 218.13,199.40 216.60,198.47 215.07,199.40 215.49,197.66 214.13,196.50 215.91,196.35" fill="#111"/>
<polygon points="237.90,186.70 238.59,188.35 240.37,188.50 239.01,189.66 239.43,191.40 237.90,190.47 236.37,191.40 236.79,189.66 235.43,188.50 237.21,188.35" fill="#111"/>
<line x1="258.8" y1="192.9" x2="267.5" y2="192.9" stroke="#1a1a1a" stroke-width="1.0"/>
<path d="M263.15,190.20L265.55,192.90L263.15,195.60L260.75,192.90Z" fill="#111111"/>
<text x="272.2" y="196.3" font-size="7.8" font-weight="bold" text-anchor="start" fill="#3a3a3a" color="#3a3a3a" textLength="16.6" lengthAdjust="spacingAndGlyphs">PPR</text>
<text x="289.0" y="193.3" font-size="5.0" font-weight="bold" text-anchor="start" fill="#3a3a3a" color="#3a3a3a" textLength="7.0" lengthAdjust="spacingAndGlyphs" style="stroke-width:0.12px">fl/fl</text>
<text x="298.5" y="196.3" font-size="7.8" font-weight="bold" text-anchor="start" fill="#3a3a3a" color="#3a3a3a" textLength="14.9" lengthAdjust="spacingAndGlyphs">Veh</text>
<line x1="258.8" y1="205.2" x2="267.5" y2="205.2" stroke="#a0525c" stroke-width="1.0"/>
<circle cx="263.15" cy="205.20" r="2.2" fill="#c4404f"/>
<text x="272.2" y="208.8" font-size="7.8" font-weight="bold" text-anchor="start" fill="#3a3a3a" color="#3a3a3a" textLength="16.6" lengthAdjust="spacingAndGlyphs">PPR</text>
<text x="289.0" y="205.8" font-size="5.0" font-weight="bold" text-anchor="start" fill="#3a3a3a" color="#3a3a3a" textLength="7.0" lengthAdjust="spacingAndGlyphs" style="stroke-width:0.12px">fl/fl</text>
<text x="299.0" y="208.8" font-size="7.8" font-weight="bold" text-anchor="start" fill="#3a3a3a" color="#3a3a3a" textLength="15.8" lengthAdjust="spacingAndGlyphs">PTH</text>
<line x1="258.8" y1="220.2" x2="267.5" y2="220.2" stroke="#6f9c56" stroke-width="1.0"/>
<path d="M263.15,217.60L265.75,222.10L260.55,222.10Z" fill="#72b545"/>
<text x="272.2" y="223.8" font-size="7.8" font-weight="bold" text-anchor="start" fill="#3a3a3a" color="#3a3a3a" textLength="16.6" lengthAdjust="spacingAndGlyphs">PPR</text>
<text x="289.2" y="221.4" font-size="5.0" font-weight="bold" text-anchor="start" fill="#3a3a3a" color="#3a3a3a" style="stroke-width:0.12px">T</text>
<text x="294.5" y="221.20000000000002" font-size="5.2" font-weight="bold" text-anchor="start" fill="#3a3a3a" color="#3a3a3a" textLength="11.8" lengthAdjust="spacingAndGlyphs" style="stroke-width:0.12px">cells</text>
<text x="306.4" y="224.20000000000002" font-size="6.6" font-weight="bold" text-anchor="start" fill="#3a3a3a" color="#3a3a3a" textLength="7.0" lengthAdjust="spacingAndGlyphs" style="stroke-width:0.2px">-/-</text>
<text x="315.59999999999997" y="223.8" font-size="7.8" font-weight="bold" text-anchor="start" fill="#3a3a3a" color="#3a3a3a" textLength="14.8" lengthAdjust="spacingAndGlyphs">Veh</text>
<line x1="258.8" y1="231.6" x2="267.5" y2="231.6" stroke="#3236a0" stroke-width="1.0"/>
<path d="M263.15,234.20L265.75,229.70L260.55,229.70Z" fill="#2a2fb0"/>
<text x="272.2" y="235.3" font-size="7.8" font-weight="bold" text-anchor="start" fill="#3a3a3a" color="#3a3a3a" textLength="16.6" lengthAdjust="spacingAndGlyphs">PPR</text>
<text x="289.2" y="232.9" font-size="5.0" font-weight="bold" text-anchor="start" fill="#3a3a3a" color="#3a3a3a" style="stroke-width:0.12px">T</text>
<text x="294.5" y="232.70000000000002" font-size="5.2" font-weight="bold" text-anchor="start" fill="#3a3a3a" color="#3a3a3a" textLength="11.8" lengthAdjust="spacingAndGlyphs" style="stroke-width:0.12px">cells</text>
<text x="306.4" y="235.70000000000002" font-size="6.6" font-weight="bold" text-anchor="start" fill="#3a3a3a" color="#3a3a3a" textLength="7.0" lengthAdjust="spacingAndGlyphs" style="stroke-width:0.2px">-/-</text>
<text x="315.59999999999997" y="235.3" font-size="7.8" font-weight="bold" text-anchor="start" fill="#3a3a3a" color="#3a3a3a" textLength="16.2" lengthAdjust="spacingAndGlyphs">PTH</text>
<text x="359.6" y="166.6" font-size="17.5" font-weight="bold" text-anchor="start" fill="#000" color="#000">F</text>
<text transform="translate(373.3,265.9) rotate(-90)" x="0" y="0" font-size="8.7" font-weight="bold" text-anchor="middle" fill="#000" color="#000" textLength="147.2" lengthAdjust="spacingAndGlyphs">CD45.2+ B220+ Cells (% total cells)</text>
<line x1="388.9" y1="186.5" x2="388.9" y2="317.3" stroke="#222" stroke-width="1.25"/>
<line x1="388.9" y1="323.4" x2="388.9" y2="344.8" stroke="#222" stroke-width="1.25"/>
<line x1="386.9" y1="317.05" x2="388.9" y2="317.05" stroke="#222" stroke-width="1.1"/>
<text x="385.6" y="319.35" font-size="6.4" font-weight="bold" text-anchor="end" fill="#222" color="#222" style="stroke-width:0.2px">5</text>
<line x1="386.9" y1="298.4" x2="388.9" y2="298.4" stroke="#222" stroke-width="1.1"/>
<text x="385.6" y="300.7" font-size="6.4" font-weight="bold" text-anchor="end" fill="#222" color="#222" style="stroke-width:0.2px">10</text>
<line x1="386.9" y1="279.75" x2="388.9" y2="279.75" stroke="#222" stroke-width="1.1"/>
<text x="385.6" y="282.05" font-size="6.4" font-weight="bold" text-anchor="end" fill="#222" color="#222" style="stroke-width:0.2px">15</text>
<line x1="386.9" y1="261.1" x2="388.9" y2="261.1" stroke="#222" stroke-width="1.1"/>
<text x="385.6" y="263.40000000000003" font-size="6.4" font-weight="bold" text-anchor="end" fill="#222" color="#222" style="stroke-width:0.2px">20</text>
<line x1="386.9" y1="242.45" x2="388.9" y2="242.45" stroke="#222" stroke-width="1.1"/>
<text x="385.6" y="244.75" font-size="6.4" font-weight="bold" text-anchor="end" fill="#222" color="#222" style="stroke-width:0.2px">25</text>
<line x1="386.9" y1="223.8" x2="388.9" y2="223.8" stroke="#222" stroke-width="1.1"/>
<text x="385.6" y="226.10000000000002" font-size="6.4" font-weight="bold" text-anchor="end" fill="#222" color="#222" style="stroke-width:0.2px">30</text>
<line x1="386.9" y1="205.15" x2="388.9" y2="205.15" stroke="#222" stroke-width="1.1"/>
<text x="385.6" y="207.45000000000002" font-size="6.4" font-weight="bold" text-anchor="end" fill="#222" color="#222" style="stroke-width:0.2px">35</text>
<line x1="386.9" y1="186.5" x2="388.9" y2="186.5" stroke="#222" stroke-width="1.1"/>
<text x="385.6" y="188.8" font-size="6.4" font-weight="bold" text-anchor="end" fill="#222" color="#222" style="stroke-width:0.2px">40</text>
<line x1="386.9" y1="344.2" x2="388.9" y2="344.2" stroke="#222" stroke-width="1.1"/>
<text x="385.6" y="346.5" font-size="6.4" font-weight="bold" text-anchor="end" fill="#222" color="#222" style="stroke-width:0.2px">0</text>
<line x1="386.9" y1="323.4" x2="388.9" y2="323.4" stroke="#222" stroke-width="1.1"/>
<text x="385.6" y="325.7" font-size="6.4" font-weight="bold" text-anchor="end" fill="#222" color="#222" style="stroke-width:0.2px">5</text>
<line x1="388.29999999999995" y1="344.2" x2="514.5" y2="344.2" stroke="#222" stroke-width="1.25"/>
<line x1="399.5" y1="344.2" x2="399.5" y2="346.59999999999997" stroke="#222" stroke-width="1.1"/>
<text x="399.5" y="352.7" font-size="6.4" font-weight="bold" text-anchor="middle" fill="#222" color="#222" style="stroke-width:0.2px">2</text>
<line x1="420.3" y1="344.2" x2="420.3" y2="346.59999999999997" stroke="#222" stroke-width="1.1"/>
<text x="420.3" y="352.7" font-size="6.4" font-weight="bold" text-anchor="middle" fill="#222" color="#222" style="stroke-width:0.2px">4</text>
<line x1="441.1" y1="344.2" x2="441.1" y2="346.59999999999997" stroke="#222" stroke-width="1.1"/>
<text x="441.1" y="352.7" font-size="6.4" font-weight="bold" text-anchor="middle" fill="#222" color="#222" style="stroke-width:0.2px">8</text>
<line x1="461.9" y1="344.2" x2="461.9" y2="346.59999999999997" stroke="#222" stroke-width="1.1"/>
<text x="461.9" y="352.7" font-size="6.4" font-weight="bold" text-anchor="middle" fill="#222" color="#222" style="stroke-width:0.2px">12</text>
<line x1="482.7" y1="344.2" x2="482.7" y2="346.59999999999997" stroke="#222" stroke-width="1.1"/>
<text x="482.7" y="352.7" font-size="6.4" font-weight="bold" text-anchor="middle" fill="#222" color="#222" style="stroke-width:0.2px">24</text>
<line x1="503.5" y1="344.2" x2="503.5" y2="346.59999999999997" stroke="#222" stroke-width="1.1"/>
<text x="503.5" y="352.7" font-size="6.4" font-weight="bold" text-anchor="middle" fill="#222" color="#222" style="stroke-width:0.2px">36</text>
<text x="451.5" y="365.6" font-size="9.1" font-weight="bold" text-anchor="middle" fill="#111" color="#111" textLength="28.6" lengthAdjust="spacingAndGlyphs">Weeks</text>
<path d="M399.50,286.46 L420.30,251.78 L441.10,218.95 L461.90,216.34 L482.70,238.72 L503.50,259.24" stroke="#6f9c56" stroke-width="1.0" fill="none"/>
<line x1="461.9" y1="216.34" x2="461.9" y2="205.89600000000002" stroke="#72b545" stroke-width="1.0"/>
<line x1="459.59999999999997" y1="205.89600000000002" x2="464.2" y2="205.89600000000002" stroke="#72b545" stroke-width="1.3"/>
<line x1="482.7" y1="238.72" x2="482.7" y2="235.736" stroke="#72b545" stroke-width="1.0"/>
<line x1="480.4" y1="235.736" x2="485.0" y2="235.736" stroke="#72b545" stroke-width="1.3"/>
<line x1="503.5" y1="259.235" x2="503.5" y2="252.894" stroke="#72b545" stroke-width="1.0"/>
<line x1="501.2" y1="252.894" x2="505.8" y2="252.894" stroke="#72b545" stroke-width="1.3"/>
<path d="M399.50,283.86L402.10,288.36L396.90,288.36Z" fill="#72b545"/>
<path d="M420.30,249.18L422.90,253.68L417.70,253.68Z" fill="#72b545"/>
<path d="M441.10,216.35L443.70,220.85L438.50,220.85Z" fill="#72b545"/>
<path d="M461.90,213.74L464.50,218.24L459.30,218.24Z" fill="#72b545"/>
<path d="M482.70,236.12L485.30,240.62L480.10,240.62Z" fill="#72b545"/>
<path d="M503.50,256.63L506.10,261.13L500.90,261.13Z" fill="#72b545"/>
<path d="M399.50,301.38 L420.30,248.05 L441.10,233.87 L461.90,251.78 L482.70,257.74 L503.50,260.35" stroke="#1a1a1a" stroke-width="1.0" fill="none"/>
<line x1="399.5" y1="301.384" x2="399.5" y2="304.368" stroke="#111111" stroke-width="1.0"/>
<line x1="397.2" y1="304.368" x2="401.8" y2="304.368" stroke="#111111" stroke-width="1.3"/>
<line x1="420.3" y1="248.04500000000002" x2="420.3" y2="236.482" stroke="#111111" stroke-width="1.0"/>
<line x1="418.0" y1="236.482" x2="422.6" y2="236.482" stroke="#111111" stroke-width="1.3"/>
<line x1="441.1" y1="233.87099999999998" x2="441.1" y2="231.26" stroke="#111111" stroke-width="1.0"/>
<line x1="438.8" y1="231.26" x2="443.40000000000003" y2="231.26" stroke="#111111" stroke-width="1.3"/>
<line x1="461.9" y1="251.775" x2="461.9" y2="254.386" stroke="#111111" stroke-width="1.0"/>
<line x1="459.59999999999997" y1="254.386" x2="464.2" y2="254.386" stroke="#111111" stroke-width="1.3"/>
<line x1="461.9" y1="251.775" x2="461.9" y2="249.164" stroke="#111111" stroke-width="1.0"/>
<line x1="459.59999999999997" y1="249.164" x2="464.2" y2="249.164" stroke="#111111" stroke-width="1.3"/>
<line x1="503.5" y1="260.354" x2="503.5" y2="255.505" stroke="#111111" stroke-width="1.0"/>
<line x1="501.2" y1="255.505" x2="505.8" y2="255.505" stroke="#111111" stroke-width="1.3"/>
<path d="M399.50,298.68L401.90,301.38L399.50,304.08L397.10,301.38Z" fill="#111111"/>
<path d="M420.30,245.35L422.70,248.05L420.30,250.75L417.90,248.05Z" fill="#111111"/>
<path d="M441.10,231.17L443.50,233.87L441.10,236.57L438.70,233.87Z" fill="#111111"/>
<path d="M461.90,249.08L464.30,251.78L461.90,254.47L459.50,251.78Z" fill="#111111"/>
<path d="M482.70,255.04L485.10,257.74L482.70,260.44L480.30,257.74Z" fill="#111111"/>
<path d="M503.50,257.65L505.90,260.35L503.50,263.05L501.10,260.35Z" fill="#111111"/>
<path d="M399.50,289.07 L420.30,268.56 L441.10,215.22 L461.90,234.24 L482.70,240.21 L503.50,277.14" stroke="#3236a0" stroke-width="1.0" fill="none"/>
<line x1="399.5" y1="289.075" x2="399.5" y2="293.551" stroke="#2a2fb0" stroke-width="1.0"/>
<line x1="397.2" y1="293.551" x2="401.8" y2="293.551" stroke="#2a2fb0" stroke-width="1.3"/>
<line x1="399.5" y1="289.075" x2="399.5" y2="285.718" stroke="#2a2fb0" stroke-width="1.0"/>
<line x1="397.2" y1="285.718" x2="401.8" y2="285.718" stroke="#2a2fb0" stroke-width="1.3"/>
<line x1="420.3" y1="268.56" x2="420.3" y2="272.29" stroke="#2a2fb0" stroke-width="1.0"/>
<line x1="418.0" y1="272.29" x2="422.6" y2="272.29" stroke="#2a2fb0" stroke-width="1.3"/>
<line x1="420.3" y1="268.56" x2="420.3" y2="264.83" stroke="#2a2fb0" stroke-width="1.0"/>
<line x1="418.0" y1="264.83" x2="422.6" y2="264.83" stroke="#2a2fb0" stroke-width="1.3"/>
<line x1="441.1" y1="215.221" x2="441.1" y2="211.118" stroke="#2a2fb0" stroke-width="1.0"/>
<line x1="438.8" y1="211.118" x2="443.40000000000003" y2="211.118" stroke="#2a2fb0" stroke-width="1.3"/>
<line x1="461.9" y1="234.244" x2="461.9" y2="240.958" stroke="#2a2fb0" stroke-width="1.0"/>
<line x1="459.59999999999997" y1="240.958" x2="464.2" y2="240.958" stroke="#2a2fb0" stroke-width="1.3"/>
<line x1="482.7" y1="240.212" x2="482.7" y2="242.45" stroke="#2a2fb0" stroke-width="1.0"/>
<line x1="480.4" y1="242.45" x2="485.0" y2="242.45" stroke="#2a2fb0" stroke-width="1.3"/>
<line x1="482.7" y1="240.212" x2="482.7" y2="237.974" stroke="#2a2fb0" stroke-width="1.0"/>
<line x1="480.4" y1="237.974" x2="485.0" y2="237.974" stroke="#2a2fb0" stroke-width="1.3"/>
<line x1="503.5" y1="277.139" x2="503.5" y2="283.48" stroke="#2a2fb0" stroke-width="1.0"/>
<line x1="501.2" y1="283.48" x2="505.8" y2="283.48" stroke="#2a2fb0" stroke-width="1.3"/>
<path d="M399.50,291.68L402.10,287.18L396.90,287.18Z" fill="#2a2fb0"/>
<path d="M420.30,271.16L422.90,266.66L417.70,266.66Z" fill="#2a2fb0"/>
<path d="M441.10,217.82L443.70,213.32L438.50,213.32Z" fill="#2a2fb0"/>
<path d="M461.90,236.84L464.50,232.34L459.30,232.34Z" fill="#2a2fb0"/>
<path d="M482.70,242.81L485.30,238.31L480.10,238.31Z" fill="#2a2fb0"/>
<path d="M503.50,279.74L506.10,275.24L500.90,275.24Z" fill="#2a2fb0"/>
<path d="M399.50,279.75 L420.30,210.37 L441.10,205.90 L461.90,227.53 L482.70,262.22 L503.50,262.97" stroke="#a0525c" stroke-width="1.0" fill="none"/>
<line x1="399.5" y1="279.75" x2="399.5" y2="272.29" stroke="#c4404f" stroke-width="1.0"/>
<line x1="397.2" y1="272.29" x2="401.8" y2="272.29" stroke="#c4404f" stroke-width="1.3"/>
<line x1="420.3" y1="210.37199999999999" x2="420.3" y2="203.285" stroke="#c4404f" stroke-width="1.0"/>
<line x1="418.0" y1="203.285" x2="422.6" y2="203.285" stroke="#c4404f" stroke-width="1.3"/>
<line x1="441.1" y1="205.89600000000002" x2="441.1" y2="202.166" stroke="#c4404f" stroke-width="1.0"/>
<line x1="438.8" y1="202.166" x2="443.40000000000003" y2="202.166" stroke="#c4404f" stroke-width="1.3"/>
<line x1="482.7" y1="262.219" x2="482.7" y2="265.576" stroke="#c4404f" stroke-width="1.0"/>
<line x1="480.4" y1="265.576" x2="485.0" y2="265.576" stroke="#c4404f" stroke-width="1.3"/>
<line x1="503.5" y1="262.96500000000003" x2="503.5" y2="271.171" stroke="#c4404f" stroke-width="1.0"/>
<line x1="501.2" y1="271.171" x2="505.8" y2="271.171" stroke="#c4404f" stroke-width="1.3"/>
<circle cx="399.50" cy="279.75" r="2.2" fill="#c4404f"/>
<circle cx="420.30" cy="210.37" r="2.2" fill="#c4404f"/>
<circle cx="441.10" cy="205.90" r="2.2" fill="#c4404f"/>
<circle cx="461.90" cy="227.53" r="2.2" fill="#c4404f"/>
<circle cx="482.70" cy="262.22" r="2.2" fill="#c4404f"/>
<circle cx="503.50" cy="262.97" r="2.2" fill="#c4404f"/>
<polygon points="399.50,262.40 400.19,264.05 401.97,264.20 400.61,265.36 401.03,267.10 399.50,266.17 397.97,267.10 398.39,265.36 397.03,264.20 398.81,264.05" fill="#111"/>
<polygon points="420.20,193.70 420.89,195.35 422.67,195.50 421.31,196.66 421.73,198.40 420.20,197.47 418.67,198.40 419.09,196.66 417.73,195.50 419.51,195.35" fill="#111"/>
<polygon points="441.00,192.40 441.69,194.05 443.47,194.20 442.11,195.36 442.53,197.10 441.00,196.17 439.47,197.10 439.89,195.36 438.53,194.20 440.31,194.05" fill="#111"/>
<line x1="438.8" y1="290.9" x2="447.5" y2="290.9" stroke="#1a1a1a" stroke-width="1.0"/>
<path d="M443.15,288.20L445.55,290.90L443.15,293.60L440.75,290.90Z" fill="#111111"/>
<text x="452.6" y="294.5" font-size="7.8" font-weight="bold" text-anchor="start" fill="#3a3a3a" color="#3a3a3a" textLength="16.6" lengthAdjust="spacingAndGlyphs">PPR</text>
<text x="469.40000000000003" y="291.5" font-size="5.0" font-weight="bold" text-anchor="start" fill="#3a3a3a" color="#3a3a3a" textLength="7.0" lengthAdjust="spacingAndGlyphs" style="stroke-width:0.12px">fl/fl</text>
<text x="478.90000000000003" y="294.5" font-size="7.8" font-weight="bold" text-anchor="start" fill="#3a3a3a" color="#3a3a3a" textLength="14.9" lengthAdjust="spacingAndGlyphs">Veh</text>
<line x1="438.8" y1="303.7" x2="447.5" y2="303.7" stroke="#a0525c" stroke-width="1.0"/>
<circle cx="443.15" cy="303.70" r="2.2" fill="#c4404f"/>
<text x="452.6" y="307.1" font-size="7.8" font-weight="bold" text-anchor="start" fill="#3a3a3a" color="#3a3a3a" textLength="16.6" lengthAdjust="spacingAndGlyphs">PPR</text>
<text x="469.40000000000003" y="304.1" font-size="5.0" font-weight="bold" text-anchor="start" fill="#3a3a3a" color="#3a3a3a" textLength="7.0" lengthAdjust="spacingAndGlyphs" style="stroke-width:0.12px">fl/fl</text>
<text x="479.40000000000003" y="307.1" font-size="7.8" font-weight="bold" text-anchor="start" fill="#3a3a3a" color="#3a3a3a" textLength="15.8" lengthAdjust="spacingAndGlyphs">PTH</text>
<line x1="438.8" y1="318.6" x2="447.5" y2="318.6" stroke="#6f9c56" stroke-width="1.0"/>
<path d="M443.15,316.00L445.75,320.50L440.55,320.50Z" fill="#72b545"/>
<text x="452.6" y="321.9" font-size="7.8" font-weight="bold" text-anchor="start" fill="#3a3a3a" color="#3a3a3a" textLength="16.6" lengthAdjust="spacingAndGlyphs">PPR</text>
<text x="469.6" y="319.5" font-size="5.0" font-weight="bold" text-anchor="start" fill="#3a3a3a" color="#3a3a3a" style="stroke-width:0.12px">T</text>
<text x="474.90000000000003" y="319.29999999999995" font-size="5.2" font-weight="bold" text-anchor="start" fill="#3a3a3a" color="#3a3a3a" textLength="11.8" lengthAdjust="spacingAndGlyphs" style="stroke-width:0.12px">cells</text>
<text x="486.8" y="322.29999999999995" font-size="6.6" font-weight="bold" text-anchor="start" fill="#3a3a3a" color="#3a3a3a" textLength="7.0" lengthAdjust="spacingAndGlyphs" style="stroke-width:0.2px">-/-</text>
<text x="496.0" y="321.9" font-size="7.8" font-weight="bold" text-anchor="start" fill="#3a3a3a" color="#3a3a3a" textLength="14.8" lengthAdjust="spacingAndGlyphs">Veh</text>
<line x1="438.8" y1="329.9" x2="447.5" y2="329.9" stroke="#3236a0" stroke-width="1.0"/>
<path d="M443.15,332.50L445.75,328.00L440.55,328.00Z" fill="#2a2fb0"/>
<text x="452.6" y="333.5" font-size="7.8" font-weight="bold" text-anchor="start" fill="#3a3a3a" color="#3a3a3a" textLength="16.6" lengthAdjust="spacingAndGlyphs">PPR</text>
<text x="469.6" y="331.1" font-size="5.0" font-weight="bold" text-anchor="start" fill="#3a3a3a" color="#3a3a3a" style="stroke-width:0.12px">T</text>
<text x="474.90000000000003" y="330.9" font-size="5.2" font-weight="bold" text-anchor="start" fill="#3a3a3a" color="#3a3a3a" textLength="11.8" lengthAdjust="spacingAndGlyphs" style="stroke-width:0.12px">cells</text>
<text x="486.8" y="333.9" font-size="6.6" font-weight="bold" text-anchor="start" fill="#3a3a3a" color="#3a3a3a" textLength="7.0" lengthAdjust="spacingAndGlyphs" style="stroke-width:0.2px">-/-</text>
<text x="496.0" y="333.5" font-size="7.8" font-weight="bold" text-anchor="start" fill="#3a3a3a" color="#3a3a3a" textLength="16.2" lengthAdjust="spacingAndGlyphs">PTH</text>
<text x="32.9" y="405.6" font-size="17" font-weight="bold" text-anchor="start" fill="#000" color="#000">G</text>
<text transform="translate(74.6,470.6) rotate(-90)" x="0" y="0" font-size="8.5" font-weight="bold" text-anchor="middle" fill="#000" color="#000" textLength="76.2" lengthAdjust="spacingAndGlyphs">Surviving mice (%)</text>
<line x1="92.3" y1="428.6" x2="92.3" y2="511.40000000000003" stroke="#222" stroke-width="1.25"/>
<line x1="90.3" y1="510.8" x2="92.3" y2="510.8" stroke="#222" stroke-width="1.1"/>
<text x="89.7" y="513.1" font-size="6.4" font-weight="bold" text-anchor="end" fill="#222" color="#222" textLength="3.4" lengthAdjust="spacingAndGlyphs" style="stroke-width:0.2px">0</text>
<line x1="90.3" y1="494.36" x2="92.3" y2="494.36" stroke="#222" stroke-width="1.1"/>
<text x="89.7" y="496.66" font-size="6.4" font-weight="bold" text-anchor="end" fill="#222" color="#222" textLength="6.6" lengthAdjust="spacingAndGlyphs" style="stroke-width:0.2px">20</text>
<line x1="90.3" y1="477.92" x2="92.3" y2="477.92" stroke="#222" stroke-width="1.1"/>
<text x="89.7" y="480.22" font-size="6.4" font-weight="bold" text-anchor="end" fill="#222" color="#222" textLength="6.6" lengthAdjust="spacingAndGlyphs" style="stroke-width:0.2px">40</text>
<line x1="90.3" y1="461.48" x2="92.3" y2="461.48" stroke="#222" stroke-width="1.1"/>
<text x="89.7" y="463.78000000000003" font-size="6.4" font-weight="bold" text-anchor="end" fill="#222" color="#222" textLength="6.6" lengthAdjust="spacingAndGlyphs" style="stroke-width:0.2px">60</text>
<line x1="90.3" y1="445.04" x2="92.3" y2="445.04" stroke="#222" stroke-width="1.1"/>
<text x="89.7" y="447.34000000000003" font-size="6.4" font-weight="bold" text-anchor="end" fill="#222" color="#222" textLength="6.6" lengthAdjust="spacingAndGlyphs" style="stroke-width:0.2px">80</text>
<line x1="90.3" y1="428.6" x2="92.3" y2="428.6" stroke="#222" stroke-width="1.1"/>
<text x="89.7" y="430.90000000000003" font-size="6.4" font-weight="bold" text-anchor="end" fill="#222" color="#222" textLength="10.0" lengthAdjust="spacingAndGlyphs" style="stroke-width:0.2px">100</text>
<line x1="91.7" y1="510.8" x2="215.096" y2="510.8" stroke="#222" stroke-width="1.25"/>
<line x1="92.8" y1="510.8" x2="92.8" y2="512.6" stroke="#222" stroke-width="1.1"/>
<text x="93.1" y="520.4" font-size="6.4" font-weight="bold" text-anchor="middle" fill="#222" color="#222" textLength="3.3" lengthAdjust="spacingAndGlyphs" style="stroke-width:0.2px">0</text>
<line x1="123.299" y1="510.8" x2="123.299" y2="512.6" stroke="#222" stroke-width="1.1"/>
<text x="123.599" y="520.4" font-size="6.4" font-weight="bold" text-anchor="middle" fill="#222" color="#222" textLength="3.3" lengthAdjust="spacingAndGlyphs" style="stroke-width:0.2px">7</text>
<line x1="153.798" y1="510.8" x2="153.798" y2="512.6" stroke="#222" stroke-width="1.1"/>
<text x="154.098" y="520.4" font-size="6.4" font-weight="bold" text-anchor="middle" fill="#222" color="#222" textLength="6.6" lengthAdjust="spacingAndGlyphs" style="stroke-width:0.2px">14</text>
<line x1="184.297" y1="510.8" x2="184.297" y2="512.6" stroke="#222" stroke-width="1.1"/>
<text x="184.597" y="520.4" font-size="6.4" font-weight="bold" text-anchor="middle" fill="#222" color="#222" textLength="6.6" lengthAdjust="spacingAndGlyphs" style="stroke-width:0.2px">21</text>
<line x1="214.796" y1="510.8" x2="214.796" y2="512.6" stroke="#222" stroke-width="1.1"/>
<text x="215.096" y="520.4" font-size="6.4" font-weight="bold" text-anchor="middle" fill="#222" color="#222" textLength="6.6" lengthAdjust="spacingAndGlyphs" style="stroke-width:0.2px">28</text>
<path d="M92.80,428.60 H118.94 V434.35 H127.66 V440.11 H132.01 V445.86 H136.37 V458.19 H214.80" stroke="#a2626a" stroke-width="1.15" fill="none" stroke-linejoin="miter" stroke-linecap="butt"/>
<line x1="214.396" y1="458.692" x2="214.396" y2="456.192" stroke="#a2626a" stroke-width="1.2"/>
<path d="M92.80,428.60 H114.58 V433.53 H118.94 V444.22 H123.30 V454.08 H127.66 V469.70 H132.01 V485.32 H136.37 V490.25 H140.73 V495.18 H214.80" stroke="#1a1a1a" stroke-width="1.5" fill="none" stroke-linejoin="miter" stroke-linecap="butt"/>
<line x1="214.396" y1="495.682" x2="214.396" y2="493.182" stroke="#1a1a1a" stroke-width="1.2"/>
<text x="68.8" y="411.6" font-size="9" text-anchor="start" fill="#111" color="#111" textLength="111.2" lengthAdjust="spacingAndGlyphs">Donor mice: Untreated PPR</text>
<text x="180.39999999999998" y="407.70000000000005" font-size="6.6" text-anchor="start" fill="#111" color="#111" textLength="8.8" lengthAdjust="spacingAndGlyphs" style="stroke-width:0.2px">fl/fl</text>
<text x="68.8" y="422.6" font-size="9" text-anchor="start" fill="#111" color="#111" textLength="167.6" lengthAdjust="spacingAndGlyphs">Receipient mice: Veh and PTH treated WT</text>
<line x1="166.3" y1="472.5" x2="175.8" y2="472.5" stroke="#a2626a" stroke-width="1.2"/>
<line x1="171.05" y1="471.5" x2="171.05" y2="473.5" stroke="#a2626a" stroke-width="1.0"/>
<line x1="166.3" y1="483.0" x2="175.8" y2="483.0" stroke="#111" stroke-width="1.4"/>
<line x1="171.05" y1="482.0" x2="171.05" y2="484.0" stroke="#111" stroke-width="1.0"/>
<text x="180.0" y="475.8" font-size="9.3" text-anchor="start" fill="#111" color="#111" textLength="18.6" lengthAdjust="spacingAndGlyphs">PTH</text>
<text x="180.0" y="486.3" font-size="9.3" text-anchor="start" fill="#111" color="#111" textLength="16.4" lengthAdjust="spacingAndGlyphs">Veh</text>
<text x="186.7" y="452.6" font-size="8" text-anchor="start" fill="#111" color="#111" textLength="24.4" lengthAdjust="spacingAndGlyphs">p&lt;0.05</text>
<text x="154.4" y="532.0" font-size="8.6" font-weight="bold" text-anchor="middle" fill="#111" color="#111" textLength="48.8" lengthAdjust="spacingAndGlyphs">Time (Days)</text>
<text x="267.0" y="405.6" font-size="17" font-weight="bold" text-anchor="start" fill="#000" color="#000">H</text>
<text transform="translate(308.6,470.6) rotate(-90)" x="0" y="0" font-size="8.5" font-weight="bold" text-anchor="middle" fill="#000" color="#000" textLength="76.2" lengthAdjust="spacingAndGlyphs">Surviving mice (%)</text>
<line x1="326.6" y1="428.4" x2="326.6" y2="510.90000000000003" stroke="#222" stroke-width="1.25"/>
<line x1="324.6" y1="510.3" x2="326.6" y2="510.3" stroke="#222" stroke-width="1.1"/>
<text x="324.0" y="512.6" font-size="6.4" font-weight="bold" text-anchor="end" fill="#222" color="#222" textLength="3.4" lengthAdjust="spacingAndGlyphs" style="stroke-width:0.2px">0</text>
<line x1="324.6" y1="493.92" x2="326.6" y2="493.92" stroke="#222" stroke-width="1.1"/>
<text x="324.0" y="496.22" font-size="6.4" font-weight="bold" text-anchor="end" fill="#222" color="#222" textLength="6.6" lengthAdjust="spacingAndGlyphs" style="stroke-width:0.2px">20</text>
<line x1="324.6" y1="477.53999999999996" x2="326.6" y2="477.53999999999996" stroke="#222" stroke-width="1.1"/>
<text x="324.0" y="479.84" font-size="6.4" font-weight="bold" text-anchor="end" fill="#222" color="#222" textLength="6.6" lengthAdjust="spacingAndGlyphs" style="stroke-width:0.2px">40</text>
<line x1="324.6" y1="461.15999999999997" x2="326.6" y2="461.15999999999997" stroke="#222" stroke-width="1.1"/>
<text x="324.0" y="463.46" font-size="6.4" font-weight="bold" text-anchor="end" fill="#222" color="#222" textLength="6.6" lengthAdjust="spacingAndGlyphs" style="stroke-width:0.2px">60</text>
<line x1="324.6" y1="444.78" x2="326.6" y2="444.78" stroke="#222" stroke-width="1.1"/>
<text x="324.0" y="447.08" font-size="6.4" font-weight="bold" text-anchor="end" fill="#222" color="#222" textLength="6.6" lengthAdjust="spacingAndGlyphs" style="stroke-width:0.2px">80</text>
<line x1="324.6" y1="428.4" x2="326.6" y2="428.4" stroke="#222" stroke-width="1.1"/>
<text x="324.0" y="430.7" font-size="6.4" font-weight="bold" text-anchor="end" fill="#222" color="#222" textLength="10.0" lengthAdjust="spacingAndGlyphs" style="stroke-width:0.2px">100</text>
<line x1="326.0" y1="510.3" x2="449.396" y2="510.3" stroke="#222" stroke-width="1.25"/>
<line x1="327.1" y1="510.3" x2="327.1" y2="512.1" stroke="#222" stroke-width="1.1"/>
<text x="327.40000000000003" y="519.9" font-size="6.4" font-weight="bold" text-anchor="middle" fill="#222" color="#222" textLength="3.3" lengthAdjust="spacingAndGlyphs" style="stroke-width:0.2px">0</text>
<line x1="357.59900000000005" y1="510.3" x2="357.59900000000005" y2="512.1" stroke="#222" stroke-width="1.1"/>
<text x="357.89900000000006" y="519.9" font-size="6.4" font-weight="bold" text-anchor="middle" fill="#222" color="#222" textLength="3.3" lengthAdjust="spacingAndGlyphs" style="stroke-width:0.2px">7</text>
<line x1="388.098" y1="510.3" x2="388.098" y2="512.1" stroke="#222" stroke-width="1.1"/>
<text x="388.398" y="519.9" font-size="6.4" font-weight="bold" text-anchor="middle" fill="#222" color="#222" textLength="6.6" lengthAdjust="spacingAndGlyphs" style="stroke-width:0.2px">14</text>
<line x1="418.59700000000004" y1="510.3" x2="418.59700000000004" y2="512.1" stroke="#222" stroke-width="1.1"/>
<text x="418.89700000000005" y="519.9" font-size="6.4" font-weight="bold" text-anchor="middle" fill="#222" color="#222" textLength="6.6" lengthAdjust="spacingAndGlyphs" style="stroke-width:0.2px">21</text>
<line x1="449.096" y1="510.3" x2="449.096" y2="512.1" stroke="#222" stroke-width="1.1"/>
<text x="449.396" y="519.9" font-size="6.4" font-weight="bold" text-anchor="middle" fill="#222" color="#222" textLength="6.6" lengthAdjust="spacingAndGlyphs" style="stroke-width:0.2px">28</text>
<path d="M327.10,428.40 H353.24 V439.05 H357.60 V471.81 H370.67 V488.19 H375.03 V493.92 H449.10" stroke="#1a1a1a" stroke-width="1.5" fill="none" stroke-linejoin="miter" stroke-linecap="butt"/>
<line x1="448.696" y1="494.42" x2="448.696" y2="491.92" stroke="#1a1a1a" stroke-width="1.2"/>
<path d="M327.10,428.40 H340.17 V434.13 H357.60 V439.05 H361.96 V455.43 H366.31 V461.16 H370.67 V477.54 H379.38 V488.19 H388.10 V493.92 H449.10" stroke="#a0303c" stroke-width="1.35" fill="none" stroke-linejoin="miter" stroke-linecap="butt"/>
<line x1="448.696" y1="494.42" x2="448.696" y2="491.92" stroke="#a0303c" stroke-width="1.2"/>
<text x="304.5" y="412.2" font-size="9" text-anchor="start" fill="#111" color="#111" textLength="111.2" lengthAdjust="spacingAndGlyphs">Donor mice: Untreated PPR</text>
<text x="415.6" y="408.59999999999997" font-size="6.3" text-anchor="start" fill="#111" color="#111" style="stroke-width:0.2px">T</text>
<text x="421.1" y="408.3" font-size="6.6" text-anchor="start" fill="#111" color="#111" textLength="12.6" lengthAdjust="spacingAndGlyphs" style="stroke-width:0.2px">cells</text>
<text x="434.1" y="412.5" font-size="7" text-anchor="start" fill="#111" color="#111" textLength="7.4" lengthAdjust="spacingAndGlyphs">-/-</text>
<text x="304.5" y="422.8" font-size="9" text-anchor="start" fill="#111" color="#111" textLength="162.5" lengthAdjust="spacingAndGlyphs">Recipient mice: Veh and PTH treated WT</text>
<line x1="401.2" y1="454.4" x2="410.0" y2="454.4" stroke="#a0303c" stroke-width="1.2"/>
<line x1="405.6" y1="453.4" x2="405.6" y2="455.4" stroke="#a0303c" stroke-width="1.0"/>
<line x1="401.2" y1="466.0" x2="410.0" y2="466.0" stroke="#111" stroke-width="1.4"/>
<line x1="405.6" y1="465.0" x2="405.6" y2="467.0" stroke="#111" stroke-width="1.0"/>
<text x="413.8" y="457.7" font-size="9.3" text-anchor="start" fill="#111" color="#111" textLength="18.6" lengthAdjust="spacingAndGlyphs">PTH</text>
<text x="413.8" y="469.3" font-size="9.3" text-anchor="start" fill="#111" color="#111" textLength="16.4" lengthAdjust="spacingAndGlyphs">Veh</text>
<text x="388.4" y="531.5" font-size="8.6" font-weight="bold" text-anchor="middle" fill="#111" color="#111" textLength="49.0" lengthAdjust="spacingAndGlyphs">Time (Days)</text>
<text x="32.7" y="549.0" font-size="17" font-weight="bold" text-anchor="start" fill="#000" color="#000">I</text>
<text transform="translate(74.9,617.2) rotate(-90)" x="0" y="0" font-size="8.5" font-weight="bold" text-anchor="middle" fill="#000" color="#000" textLength="76.2" lengthAdjust="spacingAndGlyphs">Surviving mice (%)</text>
<line x1="92.0" y1="576.8" x2="92.0" y2="657.6" stroke="#222" stroke-width="1.25"/>
<line x1="90.0" y1="657.0" x2="92.0" y2="657.0" stroke="#222" stroke-width="1.1"/>
<text x="89.4" y="659.3" font-size="6.4" font-weight="bold" text-anchor="end" fill="#222" color="#222" textLength="3.4" lengthAdjust="spacingAndGlyphs" style="stroke-width:0.2px">0</text>
<line x1="90.0" y1="640.96" x2="92.0" y2="640.96" stroke="#222" stroke-width="1.1"/>
<text x="89.4" y="643.26" font-size="6.4" font-weight="bold" text-anchor="end" fill="#222" color="#222" textLength="6.6" lengthAdjust="spacingAndGlyphs" style="stroke-width:0.2px">20</text>
<line x1="90.0" y1="624.92" x2="92.0" y2="624.92" stroke="#222" stroke-width="1.1"/>
<text x="89.4" y="627.2199999999999" font-size="6.4" font-weight="bold" text-anchor="end" fill="#222" color="#222" textLength="6.6" lengthAdjust="spacingAndGlyphs" style="stroke-width:0.2px">40</text>
<line x1="90.0" y1="608.88" x2="92.0" y2="608.88" stroke="#222" stroke-width="1.1"/>
<text x="89.4" y="611.18" font-size="6.4" font-weight="bold" text-anchor="end" fill="#222" color="#222" textLength="6.6" lengthAdjust="spacingAndGlyphs" style="stroke-width:0.2px">60</text>
<line x1="90.0" y1="592.8399999999999" x2="92.0" y2="592.8399999999999" stroke="#222" stroke-width="1.1"/>
<text x="89.4" y="595.1399999999999" font-size="6.4" font-weight="bold" text-anchor="end" fill="#222" color="#222" textLength="6.6" lengthAdjust="spacingAndGlyphs" style="stroke-width:0.2px">80</text>
<line x1="90.0" y1="576.8" x2="92.0" y2="576.8" stroke="#222" stroke-width="1.1"/>
<text x="89.4" y="579.0999999999999" font-size="6.4" font-weight="bold" text-anchor="end" fill="#222" color="#222" textLength="10.0" lengthAdjust="spacingAndGlyphs" style="stroke-width:0.2px">100</text>
<line x1="91.4" y1="657.0" x2="214.20800000000003" y2="657.0" stroke="#222" stroke-width="1.25"/>
<line x1="92.5" y1="657.0" x2="92.5" y2="658.8" stroke="#222" stroke-width="1.1"/>
<text x="92.8" y="666.6" font-size="6.4" font-weight="bold" text-anchor="middle" fill="#222" color="#222" textLength="3.3" lengthAdjust="spacingAndGlyphs" style="stroke-width:0.2px">0</text>
<line x1="122.852" y1="657.0" x2="122.852" y2="658.8" stroke="#222" stroke-width="1.1"/>
<text x="123.152" y="666.6" font-size="6.4" font-weight="bold" text-anchor="middle" fill="#222" color="#222" textLength="3.3" lengthAdjust="spacingAndGlyphs" style="stroke-width:0.2px">7</text>
<line x1="153.204" y1="657.0" x2="153.204" y2="658.8" stroke="#222" stroke-width="1.1"/>
<text x="153.50400000000002" y="666.6" font-size="6.4" font-weight="bold" text-anchor="middle" fill="#222" color="#222" textLength="6.6" lengthAdjust="spacingAndGlyphs" style="stroke-width:0.2px">14</text>
<line x1="183.556" y1="657.0" x2="183.556" y2="658.8" stroke="#222" stroke-width="1.1"/>
<text x="183.85600000000002" y="666.6" font-size="6.4" font-weight="bold" text-anchor="middle" fill="#222" color="#222" textLength="6.6" lengthAdjust="spacingAndGlyphs" style="stroke-width:0.2px">21</text>
<line x1="213.90800000000002" y1="657.0" x2="213.90800000000002" y2="658.8" stroke="#222" stroke-width="1.1"/>
<text x="214.20800000000003" y="666.6" font-size="6.4" font-weight="bold" text-anchor="middle" fill="#222" color="#222" textLength="6.6" lengthAdjust="spacingAndGlyphs" style="stroke-width:0.2px">28</text>
<path d="M92.50,576.80 H118.52 V587.23 H122.85 V592.84 H127.19 V614.49 H131.52 V624.92 H135.86 V635.35 H140.20 V646.57 H213.91" stroke="#1a1a1a" stroke-width="1.5" fill="none" stroke-linejoin="miter" stroke-linecap="butt"/>
<line x1="213.508" y1="647.074" x2="213.508" y2="644.574" stroke="#1a1a1a" stroke-width="1.2"/>
<path d="M92.50,576.80 H118.52 V587.23 H131.52 V592.84 H135.86 V608.88 H213.91" stroke="#a0303c" stroke-width="1.35" fill="none" stroke-linejoin="miter" stroke-linecap="butt"/>
<line x1="213.508" y1="609.38" x2="213.508" y2="606.88" stroke="#a0303c" stroke-width="1.2"/>
<text x="63.3" y="559.4" font-size="9" text-anchor="start" fill="#111" color="#111" textLength="152.4" lengthAdjust="spacingAndGlyphs">Donor mice: Veh and PTH treated PPR</text>
<text x="216.89999999999998" y="555.5" font-size="6.6" text-anchor="start" fill="#111" color="#111" textLength="8.8" lengthAdjust="spacingAndGlyphs" style="stroke-width:0.2px">fl/fl</text>
<text x="63.3" y="570.3" font-size="9" text-anchor="start" fill="#111" color="#111" textLength="116.6" lengthAdjust="spacingAndGlyphs">Recipient mice: Untreated WT</text>
<line x1="152.0" y1="589.5" x2="161.3" y2="589.5" stroke="#a0303c" stroke-width="1.2"/>
<line x1="156.65" y1="588.5" x2="156.65" y2="590.5" stroke="#a0303c" stroke-width="1.0"/>
<line x1="152.0" y1="601.8" x2="161.3" y2="601.8" stroke="#111" stroke-width="1.4"/>
<line x1="156.65" y1="600.8" x2="156.65" y2="602.8" stroke="#111" stroke-width="1.0"/>
<text x="163.8" y="592.8" font-size="9.3" text-anchor="start" fill="#111" color="#111" textLength="18.6" lengthAdjust="spacingAndGlyphs">PTH</text>
<text x="163.8" y="605.0999999999999" font-size="9.3" text-anchor="start" fill="#111" color="#111" textLength="16.4" lengthAdjust="spacingAndGlyphs">Veh</text>
<text x="163.8" y="633.0" font-size="8" text-anchor="start" fill="#111" color="#111" textLength="24.0" lengthAdjust="spacingAndGlyphs">p&lt;0.05</text>
<text x="153.4" y="678.0" font-size="8.6" font-weight="bold" text-anchor="middle" fill="#111" color="#111" textLength="49.2" lengthAdjust="spacingAndGlyphs">Time (Days)</text>
<path d="M273.9,536.9 V545.0 Q273.9,548.6 270.9,548.6 Q268.6,548.6 268.0,546.2" stroke="#000" stroke-width="2.9" fill="none" stroke-linecap="butt"/>
<text transform="translate(308.8,619.0) rotate(-90)" x="0" y="0" font-size="8.5" font-weight="bold" text-anchor="middle" fill="#000" color="#000" textLength="76.2" lengthAdjust="spacingAndGlyphs">Surviving mice (%)</text>
<line x1="326.8" y1="578.8" x2="326.8" y2="660.2" stroke="#222" stroke-width="1.25"/>
<line x1="324.8" y1="659.6" x2="326.8" y2="659.6" stroke="#222" stroke-width="1.1"/>
<text x="324.2" y="661.9" font-size="6.4" font-weight="bold" text-anchor="end" fill="#222" color="#222" textLength="3.4" lengthAdjust="spacingAndGlyphs" style="stroke-width:0.2px">0</text>
<line x1="324.8" y1="643.44" x2="326.8" y2="643.44" stroke="#222" stroke-width="1.1"/>
<text x="324.2" y="645.74" font-size="6.4" font-weight="bold" text-anchor="end" fill="#222" color="#222" textLength="6.6" lengthAdjust="spacingAndGlyphs" style="stroke-width:0.2px">20</text>
<line x1="324.8" y1="627.28" x2="326.8" y2="627.28" stroke="#222" stroke-width="1.1"/>
<text x="324.2" y="629.5799999999999" font-size="6.4" font-weight="bold" text-anchor="end" fill="#222" color="#222" textLength="6.6" lengthAdjust="spacingAndGlyphs" style="stroke-width:0.2px">40</text>
<line x1="324.8" y1="611.12" x2="326.8" y2="611.12" stroke="#222" stroke-width="1.1"/>
<text x="324.2" y="613.42" font-size="6.4" font-weight="bold" text-anchor="end" fill="#222" color="#222" textLength="6.6" lengthAdjust="spacingAndGlyphs" style="stroke-width:0.2px">60</text>
<line x1="324.8" y1="594.9599999999999" x2="326.8" y2="594.9599999999999" stroke="#222" stroke-width="1.1"/>
<text x="324.2" y="597.2599999999999" font-size="6.4" font-weight="bold" text-anchor="end" fill="#222" color="#222" textLength="6.6" lengthAdjust="spacingAndGlyphs" style="stroke-width:0.2px">80</text>
<line x1="324.8" y1="578.8" x2="326.8" y2="578.8" stroke="#222" stroke-width="1.1"/>
<text x="324.2" y="581.0999999999999" font-size="6.4" font-weight="bold" text-anchor="end" fill="#222" color="#222" textLength="10.0" lengthAdjust="spacingAndGlyphs" style="stroke-width:0.2px">100</text>
<line x1="326.2" y1="659.6" x2="449.00800000000004" y2="659.6" stroke="#222" stroke-width="1.25"/>
<line x1="327.3" y1="659.6" x2="327.3" y2="661.4" stroke="#222" stroke-width="1.1"/>
<text x="327.6" y="669.2" font-size="6.4" font-weight="bold" text-anchor="middle" fill="#222" color="#222" textLength="3.3" lengthAdjust="spacingAndGlyphs" style="stroke-width:0.2px">0</text>
<line x1="357.65200000000004" y1="659.6" x2="357.65200000000004" y2="661.4" stroke="#222" stroke-width="1.1"/>
<text x="357.95200000000006" y="669.2" font-size="6.4" font-weight="bold" text-anchor="middle" fill="#222" color="#222" textLength="3.3" lengthAdjust="spacingAndGlyphs" style="stroke-width:0.2px">7</text>
<line x1="388.004" y1="659.6" x2="388.004" y2="661.4" stroke="#222" stroke-width="1.1"/>
<text x="388.30400000000003" y="669.2" font-size="6.4" font-weight="bold" text-anchor="middle" fill="#222" color="#222" textLength="6.6" lengthAdjust="spacingAndGlyphs" style="stroke-width:0.2px">14</text>
<line x1="418.356" y1="659.6" x2="418.356" y2="661.4" stroke="#222" stroke-width="1.1"/>
<text x="418.656" y="669.2" font-size="6.4" font-weight="bold" text-anchor="middle" fill="#222" color="#222" textLength="6.6" lengthAdjust="spacingAndGlyphs" style="stroke-width:0.2px">21</text>
<line x1="448.708" y1="659.6" x2="448.708" y2="661.4" stroke="#222" stroke-width="1.1"/>
<text x="449.00800000000004" y="669.2" font-size="6.4" font-weight="bold" text-anchor="middle" fill="#222" color="#222" textLength="6.6" lengthAdjust="spacingAndGlyphs" style="stroke-width:0.2px">28</text>
<path d="M327.30,578.80 H353.32 V584.46 H357.65 V600.62 H361.99 V611.12 H366.32 V627.28 H370.66 V632.94 H375.00 V637.78 H379.33 V643.44 H448.71" stroke="#1a1a1a" stroke-width="1.5" fill="none" stroke-linejoin="miter" stroke-linecap="butt"/>
<line x1="448.30800000000005" y1="643.94" x2="448.30800000000005" y2="641.44" stroke="#1a1a1a" stroke-width="1.2"/>
<path d="M327.30,578.80 H353.32 V584.46 H357.65 V594.96 H361.99 V600.62 H366.32 V611.12 H370.66 V621.62 H375.00 V632.94 H388.00 V637.78 H448.71" stroke="#a0303c" stroke-width="1.35" fill="none" stroke-linejoin="miter" stroke-linecap="butt"/>
<line x1="448.30800000000005" y1="638.284" x2="448.30800000000005" y2="635.784" stroke="#a0303c" stroke-width="1.2"/>
<text x="303.8" y="560.8" font-size="9" text-anchor="start" fill="#111" color="#111" textLength="152.8" lengthAdjust="spacingAndGlyphs">Donor mice: Veh and PTH treated PPR</text>
<text x="458.70000000000005" y="557.1999999999999" font-size="6.3" text-anchor="start" fill="#111" color="#111" style="stroke-width:0.2px">T</text>
<text x="463.1" y="556.9" font-size="6.6" text-anchor="start" fill="#111" color="#111" textLength="12.6" lengthAdjust="spacingAndGlyphs" style="stroke-width:0.2px">cells</text>
<text x="476.0" y="561.0999999999999" font-size="7" text-anchor="start" fill="#111" color="#111" textLength="7.6" lengthAdjust="spacingAndGlyphs">-/-</text>
<text x="303.8" y="570.1999999999999" font-size="9" text-anchor="start" fill="#111" color="#111" textLength="116.8" lengthAdjust="spacingAndGlyphs">Recipient mice: Untreated WT</text>
<line x1="401.3" y1="611.3" x2="410.0" y2="611.3" stroke="#a0303c" stroke-width="1.2"/>
<line x1="405.65" y1="610.3" x2="405.65" y2="612.3" stroke="#a0303c" stroke-width="1.0"/>
<line x1="401.3" y1="621.3" x2="410.0" y2="621.3" stroke="#111" stroke-width="1.4"/>
<line x1="405.65" y1="620.3" x2="405.65" y2="622.3" stroke="#111" stroke-width="1.0"/>
<text x="414.5" y="614.5999999999999" font-size="9.3" text-anchor="start" fill="#111" color="#111" textLength="18.6" lengthAdjust="spacingAndGlyphs">PTH</text>
<text x="417.0" y="624.5999999999999" font-size="9.3" text-anchor="start" fill="#111" color="#111" textLength="16.4" lengthAdjust="spacingAndGlyphs">Veh</text>
<text x="388.2" y="681.5" font-size="8.6" font-weight="bold" text-anchor="middle" fill="#111" color="#111" textLength="49.0" lengthAdjust="spacingAndGlyphs">Time (Days)</text>
</svg></body></html>
